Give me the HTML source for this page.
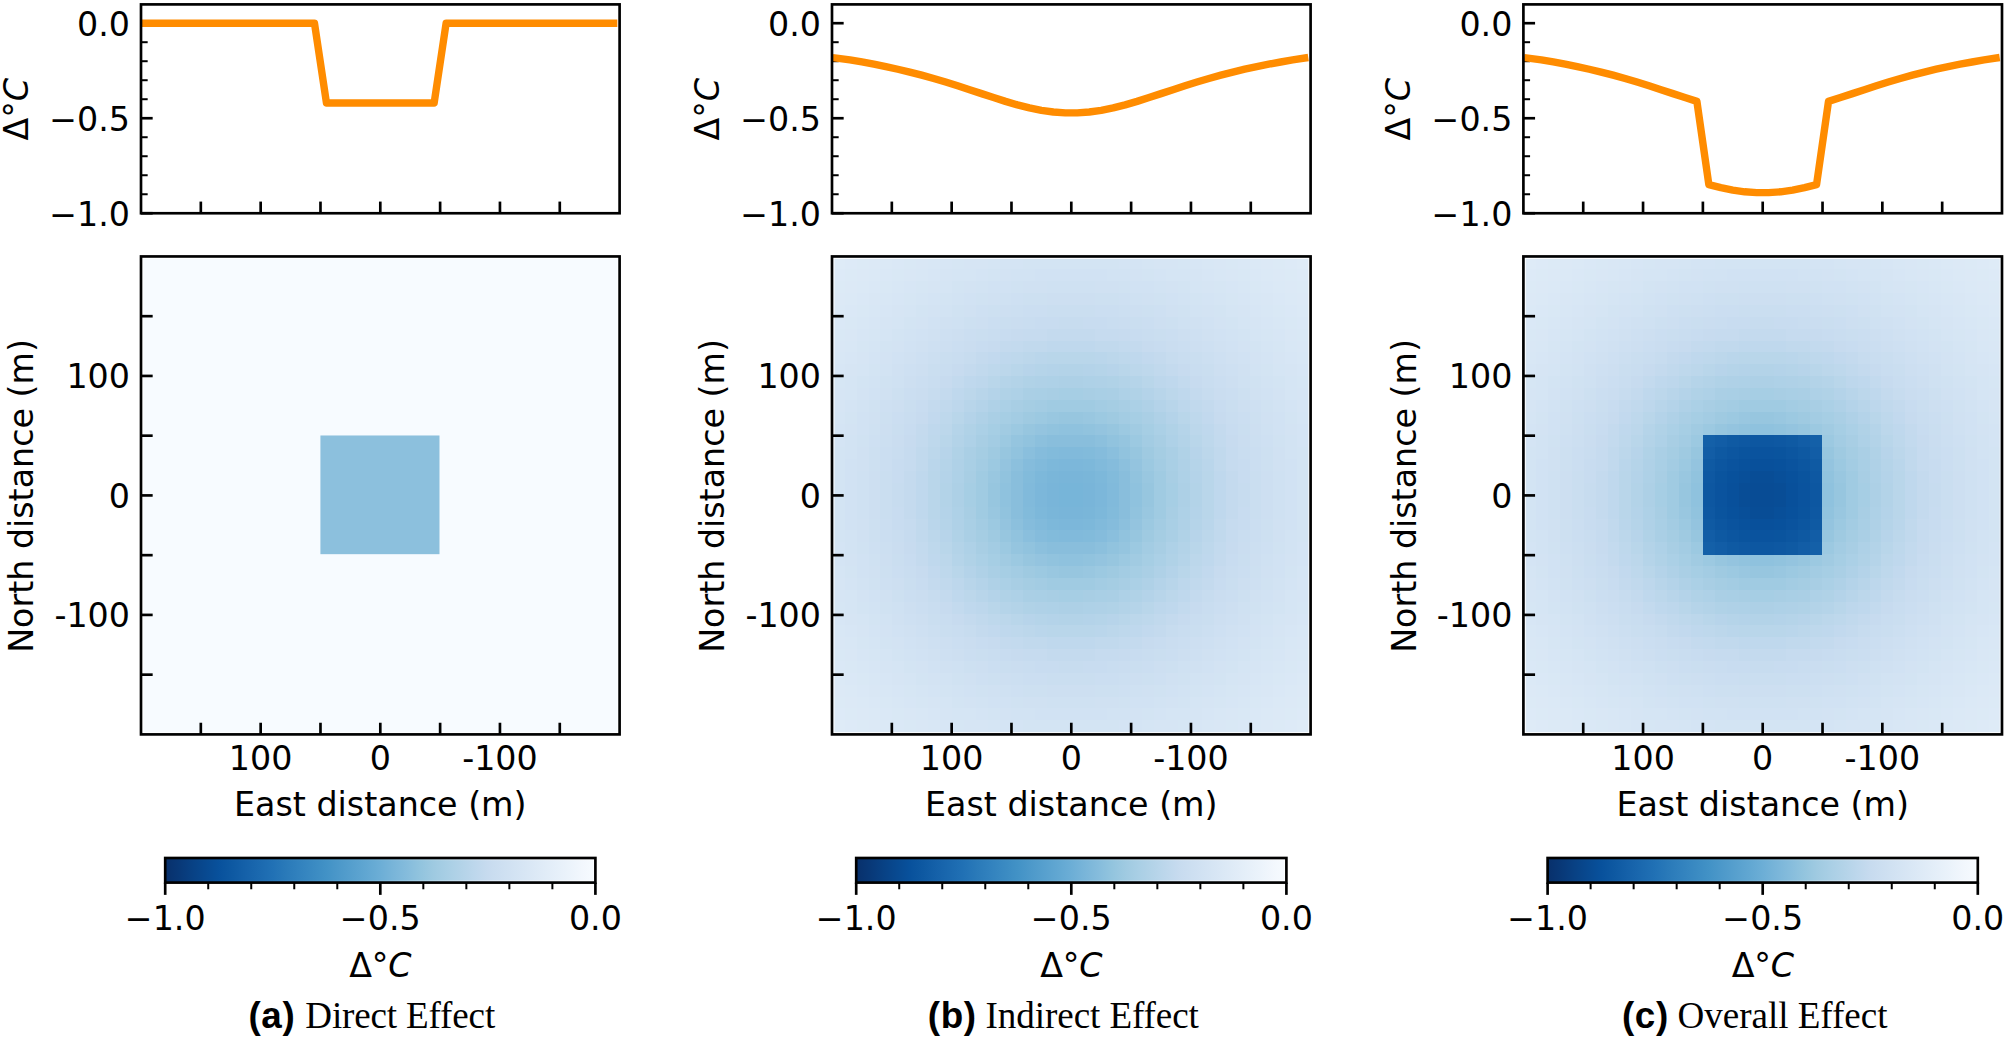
<!DOCTYPE html>
<html lang="en"><head><meta charset="utf-8"><title>Direct, Indirect and Overall Effect</title>
<style>html,body{margin:0;padding:0;background:#fff}body{width:2006px;height:1038px;overflow:hidden}svg{display:block}.t{font-family:"DejaVu Sans","Liberation Sans",sans-serif;font-size:33.3px;fill:#000}.i{font-style:italic}.l{letter-spacing:0}.k{letter-spacing:0}.cb{font-family:"Liberation Sans",sans-serif;font-weight:bold;font-size:36.8px;letter-spacing:0.6px}.cs{font-family:"Liberation Serif",serif;font-size:37.1px}.cap{fill:#000}.sp{fill:none;stroke:#000;stroke-width:2.67;stroke-linejoin:miter;stroke-linecap:square}.tk{stroke:#000;stroke-width:2.67;fill:none}.tm{stroke:#000;stroke-width:2.0;fill:none}.ln{fill:none;stroke:#ff8c00;stroke-width:7.4;stroke-linejoin:round;stroke-linecap:square}</style></head><body>
<svg width="2006" height="1038" viewBox="0 0 2006 1038">
<defs><linearGradient id="bl" x1="0" x2="1" y1="0" y2="0">
<stop offset="0.0000" stop-color="#08306b"/>
<stop offset="0.0312" stop-color="#083877"/>
<stop offset="0.0625" stop-color="#084184"/>
<stop offset="0.0938" stop-color="#084990"/>
<stop offset="0.1250" stop-color="#08519c"/>
<stop offset="0.1562" stop-color="#0e59a2"/>
<stop offset="0.1875" stop-color="#1561a9"/>
<stop offset="0.2188" stop-color="#1b69af"/>
<stop offset="0.2500" stop-color="#2171b5"/>
<stop offset="0.2812" stop-color="#2a7ab9"/>
<stop offset="0.3125" stop-color="#3282be"/>
<stop offset="0.3438" stop-color="#3a8ac2"/>
<stop offset="0.3750" stop-color="#4292c6"/>
<stop offset="0.4062" stop-color="#4d99ca"/>
<stop offset="0.4375" stop-color="#57a0ce"/>
<stop offset="0.4688" stop-color="#61a7d2"/>
<stop offset="0.5000" stop-color="#6caed6"/>
<stop offset="0.5312" stop-color="#79b5d9"/>
<stop offset="0.5625" stop-color="#85bcdc"/>
<stop offset="0.5938" stop-color="#92c4de"/>
<stop offset="0.6250" stop-color="#9fcae1"/>
<stop offset="0.6562" stop-color="#a9cfe5"/>
<stop offset="0.6875" stop-color="#b3d3e8"/>
<stop offset="0.7188" stop-color="#bdd7ec"/>
<stop offset="0.7500" stop-color="#c7dbef"/>
<stop offset="0.7812" stop-color="#cddff1"/>
<stop offset="0.8125" stop-color="#d3e3f3"/>
<stop offset="0.8438" stop-color="#d9e7f5"/>
<stop offset="0.8750" stop-color="#dfebf7"/>
<stop offset="0.9062" stop-color="#e5eff9"/>
<stop offset="0.9375" stop-color="#ebf3fb"/>
<stop offset="0.9688" stop-color="#f2f7fd"/>
<stop offset="1.0000" stop-color="#f7fbff"/>
</linearGradient>
<linearGradient id="wg" x1="0" x2="1" y1="0" y2="0"><stop offset="0" stop-color="#fff" stop-opacity="0"/><stop offset="0.45" stop-color="#fff" stop-opacity="0.1"/><stop offset="1" stop-color="#fff" stop-opacity="0.85"/></linearGradient>
<g id="ind" shape-rendering="crispEdges">
<rect x="0" y="0" width="1.03" height="1.03" fill="#deebf7"/>
<rect x="1" y="0" width="1.03" height="1.03" fill="#ddeaf7"/>
<rect x="2" y="0" width="1.03" height="1.03" fill="#dceaf6"/>
<rect x="3" y="0" width="1.03" height="1.03" fill="#dce9f6"/>
<rect x="4" y="0" width="1.03" height="1.03" fill="#dbe9f6"/>
<rect x="5" y="0" width="1.03" height="1.03" fill="#dae8f6"/>
<rect x="6" y="0" width="1.03" height="1.03" fill="#d9e8f5"/>
<rect x="7" y="0" width="1.03" height="1.03" fill="#d9e7f5"/>
<rect x="8" y="0" width="1.03" height="1.03" fill="#d8e7f5"/>
<rect x="9" y="0" width="1.03" height="1.03" fill="#d7e6f5"/>
<rect x="10" y="0" width="1.03" height="1.03" fill="#d6e6f4"/>
<rect x="11" y="0" width="1.03" height="1.03" fill="#d6e5f4"/>
<rect x="12" y="0" width="1.03" height="1.03" fill="#d6e5f4"/>
<rect x="13" y="0" width="1.03" height="1.03" fill="#d5e5f4"/>
<rect x="14" y="0" width="1.03" height="1.03" fill="#d4e4f4"/>
<rect x="15" y="0" width="1.03" height="1.03" fill="#d4e4f4"/>
<rect x="16" y="0" width="1.03" height="1.03" fill="#d3e4f3"/>
<rect x="17" y="0" width="1.03" height="1.03" fill="#d3e4f3"/>
<rect x="18" y="0" width="1.03" height="1.03" fill="#d3e4f3"/>
<rect x="19" y="0" width="1.03" height="1.03" fill="#d3e4f3"/>
<rect x="20" y="0" width="1.03" height="1.03" fill="#d3e4f3"/>
<rect x="21" y="0" width="1.03" height="1.03" fill="#d3e4f3"/>
<rect x="22" y="0" width="1.03" height="1.03" fill="#d3e4f3"/>
<rect x="23" y="0" width="1.03" height="1.03" fill="#d3e4f3"/>
<rect x="24" y="0" width="1.03" height="1.03" fill="#d4e4f4"/>
<rect x="25" y="0" width="1.03" height="1.03" fill="#d4e4f4"/>
<rect x="26" y="0" width="1.03" height="1.03" fill="#d5e5f4"/>
<rect x="27" y="0" width="1.03" height="1.03" fill="#d6e5f4"/>
<rect x="28" y="0" width="1.03" height="1.03" fill="#d6e5f4"/>
<rect x="29" y="0" width="1.03" height="1.03" fill="#d6e6f4"/>
<rect x="30" y="0" width="1.03" height="1.03" fill="#d7e6f5"/>
<rect x="31" y="0" width="1.03" height="1.03" fill="#d8e7f5"/>
<rect x="32" y="0" width="1.03" height="1.03" fill="#d9e7f5"/>
<rect x="33" y="0" width="1.03" height="1.03" fill="#d9e8f5"/>
<rect x="34" y="0" width="1.03" height="1.03" fill="#dae8f6"/>
<rect x="35" y="0" width="1.03" height="1.03" fill="#dbe9f6"/>
<rect x="36" y="0" width="1.03" height="1.03" fill="#dce9f6"/>
<rect x="37" y="0" width="1.03" height="1.03" fill="#dceaf6"/>
<rect x="38" y="0" width="1.03" height="1.03" fill="#ddeaf7"/>
<rect x="39" y="0" width="1.03" height="1.03" fill="#deebf7"/>
<rect x="0" y="1" width="1.03" height="1.03" fill="#ddeaf7"/>
<rect x="1" y="1" width="1.03" height="1.03" fill="#dceaf6"/>
<rect x="2" y="1" width="1.03" height="1.03" fill="#dce9f6"/>
<rect x="3" y="1" width="1.03" height="1.03" fill="#dbe9f6"/>
<rect x="4" y="1" width="1.03" height="1.03" fill="#dae8f6"/>
<rect x="5" y="1" width="1.03" height="1.03" fill="#d9e8f5"/>
<rect x="6" y="1" width="1.03" height="1.03" fill="#d9e7f5"/>
<rect x="7" y="1" width="1.03" height="1.03" fill="#d8e7f5"/>
<rect x="8" y="1" width="1.03" height="1.03" fill="#d7e6f5"/>
<rect x="9" y="1" width="1.03" height="1.03" fill="#d6e5f4"/>
<rect x="10" y="1" width="1.03" height="1.03" fill="#d5e5f4"/>
<rect x="11" y="1" width="1.03" height="1.03" fill="#d5e5f4"/>
<rect x="12" y="1" width="1.03" height="1.03" fill="#d4e4f4"/>
<rect x="13" y="1" width="1.03" height="1.03" fill="#d3e4f3"/>
<rect x="14" y="1" width="1.03" height="1.03" fill="#d3e3f3"/>
<rect x="15" y="1" width="1.03" height="1.03" fill="#d2e3f3"/>
<rect x="16" y="1" width="1.03" height="1.03" fill="#d2e3f3"/>
<rect x="17" y="1" width="1.03" height="1.03" fill="#d1e2f3"/>
<rect x="18" y="1" width="1.03" height="1.03" fill="#d1e2f3"/>
<rect x="19" y="1" width="1.03" height="1.03" fill="#d1e2f3"/>
<rect x="20" y="1" width="1.03" height="1.03" fill="#d1e2f3"/>
<rect x="21" y="1" width="1.03" height="1.03" fill="#d1e2f3"/>
<rect x="22" y="1" width="1.03" height="1.03" fill="#d1e2f3"/>
<rect x="23" y="1" width="1.03" height="1.03" fill="#d2e3f3"/>
<rect x="24" y="1" width="1.03" height="1.03" fill="#d2e3f3"/>
<rect x="25" y="1" width="1.03" height="1.03" fill="#d3e3f3"/>
<rect x="26" y="1" width="1.03" height="1.03" fill="#d3e4f3"/>
<rect x="27" y="1" width="1.03" height="1.03" fill="#d4e4f4"/>
<rect x="28" y="1" width="1.03" height="1.03" fill="#d5e5f4"/>
<rect x="29" y="1" width="1.03" height="1.03" fill="#d5e5f4"/>
<rect x="30" y="1" width="1.03" height="1.03" fill="#d6e5f4"/>
<rect x="31" y="1" width="1.03" height="1.03" fill="#d7e6f5"/>
<rect x="32" y="1" width="1.03" height="1.03" fill="#d8e7f5"/>
<rect x="33" y="1" width="1.03" height="1.03" fill="#d9e7f5"/>
<rect x="34" y="1" width="1.03" height="1.03" fill="#d9e8f5"/>
<rect x="35" y="1" width="1.03" height="1.03" fill="#dae8f6"/>
<rect x="36" y="1" width="1.03" height="1.03" fill="#dbe9f6"/>
<rect x="37" y="1" width="1.03" height="1.03" fill="#dce9f6"/>
<rect x="38" y="1" width="1.03" height="1.03" fill="#dceaf6"/>
<rect x="39" y="1" width="1.03" height="1.03" fill="#ddeaf7"/>
<rect x="0" y="2" width="1.03" height="1.03" fill="#dceaf6"/>
<rect x="1" y="2" width="1.03" height="1.03" fill="#dce9f6"/>
<rect x="2" y="2" width="1.03" height="1.03" fill="#dbe9f6"/>
<rect x="3" y="2" width="1.03" height="1.03" fill="#dae8f6"/>
<rect x="4" y="2" width="1.03" height="1.03" fill="#d9e8f5"/>
<rect x="5" y="2" width="1.03" height="1.03" fill="#d8e7f5"/>
<rect x="6" y="2" width="1.03" height="1.03" fill="#d7e6f5"/>
<rect x="7" y="2" width="1.03" height="1.03" fill="#d6e6f4"/>
<rect x="8" y="2" width="1.03" height="1.03" fill="#d6e5f4"/>
<rect x="9" y="2" width="1.03" height="1.03" fill="#d5e5f4"/>
<rect x="10" y="2" width="1.03" height="1.03" fill="#d3e4f3"/>
<rect x="11" y="2" width="1.03" height="1.03" fill="#d3e3f3"/>
<rect x="12" y="2" width="1.03" height="1.03" fill="#d2e3f3"/>
<rect x="13" y="2" width="1.03" height="1.03" fill="#d1e2f3"/>
<rect x="14" y="2" width="1.03" height="1.03" fill="#d1e2f3"/>
<rect x="15" y="2" width="1.03" height="1.03" fill="#d0e2f2"/>
<rect x="16" y="2" width="1.03" height="1.03" fill="#d0e1f2"/>
<rect x="17" y="2" width="1.03" height="1.03" fill="#d0e1f2"/>
<rect x="18" y="2" width="1.03" height="1.03" fill="#cfe1f2"/>
<rect x="19" y="2" width="1.03" height="1.03" fill="#cfe1f2"/>
<rect x="20" y="2" width="1.03" height="1.03" fill="#cfe1f2"/>
<rect x="21" y="2" width="1.03" height="1.03" fill="#cfe1f2"/>
<rect x="22" y="2" width="1.03" height="1.03" fill="#d0e1f2"/>
<rect x="23" y="2" width="1.03" height="1.03" fill="#d0e1f2"/>
<rect x="24" y="2" width="1.03" height="1.03" fill="#d0e2f2"/>
<rect x="25" y="2" width="1.03" height="1.03" fill="#d1e2f3"/>
<rect x="26" y="2" width="1.03" height="1.03" fill="#d1e2f3"/>
<rect x="27" y="2" width="1.03" height="1.03" fill="#d2e3f3"/>
<rect x="28" y="2" width="1.03" height="1.03" fill="#d3e3f3"/>
<rect x="29" y="2" width="1.03" height="1.03" fill="#d3e4f3"/>
<rect x="30" y="2" width="1.03" height="1.03" fill="#d5e5f4"/>
<rect x="31" y="2" width="1.03" height="1.03" fill="#d6e5f4"/>
<rect x="32" y="2" width="1.03" height="1.03" fill="#d6e6f4"/>
<rect x="33" y="2" width="1.03" height="1.03" fill="#d7e6f5"/>
<rect x="34" y="2" width="1.03" height="1.03" fill="#d8e7f5"/>
<rect x="35" y="2" width="1.03" height="1.03" fill="#d9e8f5"/>
<rect x="36" y="2" width="1.03" height="1.03" fill="#dae8f6"/>
<rect x="37" y="2" width="1.03" height="1.03" fill="#dbe9f6"/>
<rect x="38" y="2" width="1.03" height="1.03" fill="#dce9f6"/>
<rect x="39" y="2" width="1.03" height="1.03" fill="#dceaf6"/>
<rect x="0" y="3" width="1.03" height="1.03" fill="#dce9f6"/>
<rect x="1" y="3" width="1.03" height="1.03" fill="#dbe9f6"/>
<rect x="2" y="3" width="1.03" height="1.03" fill="#dae8f6"/>
<rect x="3" y="3" width="1.03" height="1.03" fill="#d9e7f5"/>
<rect x="4" y="3" width="1.03" height="1.03" fill="#d8e7f5"/>
<rect x="5" y="3" width="1.03" height="1.03" fill="#d7e6f5"/>
<rect x="6" y="3" width="1.03" height="1.03" fill="#d6e6f4"/>
<rect x="7" y="3" width="1.03" height="1.03" fill="#d5e5f4"/>
<rect x="8" y="3" width="1.03" height="1.03" fill="#d4e4f4"/>
<rect x="9" y="3" width="1.03" height="1.03" fill="#d3e4f3"/>
<rect x="10" y="3" width="1.03" height="1.03" fill="#d2e3f3"/>
<rect x="11" y="3" width="1.03" height="1.03" fill="#d1e2f3"/>
<rect x="12" y="3" width="1.03" height="1.03" fill="#d0e2f2"/>
<rect x="13" y="3" width="1.03" height="1.03" fill="#d0e1f2"/>
<rect x="14" y="3" width="1.03" height="1.03" fill="#cfe1f2"/>
<rect x="15" y="3" width="1.03" height="1.03" fill="#cee0f2"/>
<rect x="16" y="3" width="1.03" height="1.03" fill="#cde0f1"/>
<rect x="17" y="3" width="1.03" height="1.03" fill="#cde0f1"/>
<rect x="18" y="3" width="1.03" height="1.03" fill="#cddff1"/>
<rect x="19" y="3" width="1.03" height="1.03" fill="#cddff1"/>
<rect x="20" y="3" width="1.03" height="1.03" fill="#cddff1"/>
<rect x="21" y="3" width="1.03" height="1.03" fill="#cddff1"/>
<rect x="22" y="3" width="1.03" height="1.03" fill="#cde0f1"/>
<rect x="23" y="3" width="1.03" height="1.03" fill="#cde0f1"/>
<rect x="24" y="3" width="1.03" height="1.03" fill="#cee0f2"/>
<rect x="25" y="3" width="1.03" height="1.03" fill="#cfe1f2"/>
<rect x="26" y="3" width="1.03" height="1.03" fill="#d0e1f2"/>
<rect x="27" y="3" width="1.03" height="1.03" fill="#d0e2f2"/>
<rect x="28" y="3" width="1.03" height="1.03" fill="#d1e2f3"/>
<rect x="29" y="3" width="1.03" height="1.03" fill="#d2e3f3"/>
<rect x="30" y="3" width="1.03" height="1.03" fill="#d3e4f3"/>
<rect x="31" y="3" width="1.03" height="1.03" fill="#d4e4f4"/>
<rect x="32" y="3" width="1.03" height="1.03" fill="#d5e5f4"/>
<rect x="33" y="3" width="1.03" height="1.03" fill="#d6e6f4"/>
<rect x="34" y="3" width="1.03" height="1.03" fill="#d7e6f5"/>
<rect x="35" y="3" width="1.03" height="1.03" fill="#d8e7f5"/>
<rect x="36" y="3" width="1.03" height="1.03" fill="#d9e7f5"/>
<rect x="37" y="3" width="1.03" height="1.03" fill="#dae8f6"/>
<rect x="38" y="3" width="1.03" height="1.03" fill="#dbe9f6"/>
<rect x="39" y="3" width="1.03" height="1.03" fill="#dce9f6"/>
<rect x="0" y="4" width="1.03" height="1.03" fill="#dbe9f6"/>
<rect x="1" y="4" width="1.03" height="1.03" fill="#dae8f6"/>
<rect x="2" y="4" width="1.03" height="1.03" fill="#d9e8f5"/>
<rect x="3" y="4" width="1.03" height="1.03" fill="#d8e7f5"/>
<rect x="4" y="4" width="1.03" height="1.03" fill="#d7e6f5"/>
<rect x="5" y="4" width="1.03" height="1.03" fill="#d6e5f4"/>
<rect x="6" y="4" width="1.03" height="1.03" fill="#d5e5f4"/>
<rect x="7" y="4" width="1.03" height="1.03" fill="#d3e4f3"/>
<rect x="8" y="4" width="1.03" height="1.03" fill="#d3e3f3"/>
<rect x="9" y="4" width="1.03" height="1.03" fill="#d2e3f3"/>
<rect x="10" y="4" width="1.03" height="1.03" fill="#d0e2f2"/>
<rect x="11" y="4" width="1.03" height="1.03" fill="#d0e1f2"/>
<rect x="12" y="4" width="1.03" height="1.03" fill="#cee0f2"/>
<rect x="13" y="4" width="1.03" height="1.03" fill="#cde0f1"/>
<rect x="14" y="4" width="1.03" height="1.03" fill="#cddff1"/>
<rect x="15" y="4" width="1.03" height="1.03" fill="#ccdff1"/>
<rect x="16" y="4" width="1.03" height="1.03" fill="#cbdef1"/>
<rect x="17" y="4" width="1.03" height="1.03" fill="#cbdef1"/>
<rect x="18" y="4" width="1.03" height="1.03" fill="#cadef0"/>
<rect x="19" y="4" width="1.03" height="1.03" fill="#cadef0"/>
<rect x="20" y="4" width="1.03" height="1.03" fill="#cadef0"/>
<rect x="21" y="4" width="1.03" height="1.03" fill="#cadef0"/>
<rect x="22" y="4" width="1.03" height="1.03" fill="#cbdef1"/>
<rect x="23" y="4" width="1.03" height="1.03" fill="#cbdef1"/>
<rect x="24" y="4" width="1.03" height="1.03" fill="#ccdff1"/>
<rect x="25" y="4" width="1.03" height="1.03" fill="#cddff1"/>
<rect x="26" y="4" width="1.03" height="1.03" fill="#cde0f1"/>
<rect x="27" y="4" width="1.03" height="1.03" fill="#cee0f2"/>
<rect x="28" y="4" width="1.03" height="1.03" fill="#d0e1f2"/>
<rect x="29" y="4" width="1.03" height="1.03" fill="#d0e2f2"/>
<rect x="30" y="4" width="1.03" height="1.03" fill="#d2e3f3"/>
<rect x="31" y="4" width="1.03" height="1.03" fill="#d3e3f3"/>
<rect x="32" y="4" width="1.03" height="1.03" fill="#d3e4f3"/>
<rect x="33" y="4" width="1.03" height="1.03" fill="#d5e5f4"/>
<rect x="34" y="4" width="1.03" height="1.03" fill="#d6e5f4"/>
<rect x="35" y="4" width="1.03" height="1.03" fill="#d7e6f5"/>
<rect x="36" y="4" width="1.03" height="1.03" fill="#d8e7f5"/>
<rect x="37" y="4" width="1.03" height="1.03" fill="#d9e8f5"/>
<rect x="38" y="4" width="1.03" height="1.03" fill="#dae8f6"/>
<rect x="39" y="4" width="1.03" height="1.03" fill="#dbe9f6"/>
<rect x="0" y="5" width="1.03" height="1.03" fill="#dae8f6"/>
<rect x="1" y="5" width="1.03" height="1.03" fill="#d9e8f5"/>
<rect x="2" y="5" width="1.03" height="1.03" fill="#d8e7f5"/>
<rect x="3" y="5" width="1.03" height="1.03" fill="#d7e6f5"/>
<rect x="4" y="5" width="1.03" height="1.03" fill="#d6e5f4"/>
<rect x="5" y="5" width="1.03" height="1.03" fill="#d5e5f4"/>
<rect x="6" y="5" width="1.03" height="1.03" fill="#d3e4f3"/>
<rect x="7" y="5" width="1.03" height="1.03" fill="#d3e3f3"/>
<rect x="8" y="5" width="1.03" height="1.03" fill="#d1e2f3"/>
<rect x="9" y="5" width="1.03" height="1.03" fill="#d0e1f2"/>
<rect x="10" y="5" width="1.03" height="1.03" fill="#cfe1f2"/>
<rect x="11" y="5" width="1.03" height="1.03" fill="#cde0f1"/>
<rect x="12" y="5" width="1.03" height="1.03" fill="#cddff1"/>
<rect x="13" y="5" width="1.03" height="1.03" fill="#cbdef1"/>
<rect x="14" y="5" width="1.03" height="1.03" fill="#cadef0"/>
<rect x="15" y="5" width="1.03" height="1.03" fill="#caddf0"/>
<rect x="16" y="5" width="1.03" height="1.03" fill="#c9ddf0"/>
<rect x="17" y="5" width="1.03" height="1.03" fill="#c8dcf0"/>
<rect x="18" y="5" width="1.03" height="1.03" fill="#c8dcf0"/>
<rect x="19" y="5" width="1.03" height="1.03" fill="#c7dcef"/>
<rect x="20" y="5" width="1.03" height="1.03" fill="#c7dcef"/>
<rect x="21" y="5" width="1.03" height="1.03" fill="#c8dcf0"/>
<rect x="22" y="5" width="1.03" height="1.03" fill="#c8dcf0"/>
<rect x="23" y="5" width="1.03" height="1.03" fill="#c9ddf0"/>
<rect x="24" y="5" width="1.03" height="1.03" fill="#caddf0"/>
<rect x="25" y="5" width="1.03" height="1.03" fill="#cadef0"/>
<rect x="26" y="5" width="1.03" height="1.03" fill="#cbdef1"/>
<rect x="27" y="5" width="1.03" height="1.03" fill="#cddff1"/>
<rect x="28" y="5" width="1.03" height="1.03" fill="#cde0f1"/>
<rect x="29" y="5" width="1.03" height="1.03" fill="#cfe1f2"/>
<rect x="30" y="5" width="1.03" height="1.03" fill="#d0e1f2"/>
<rect x="31" y="5" width="1.03" height="1.03" fill="#d1e2f3"/>
<rect x="32" y="5" width="1.03" height="1.03" fill="#d3e3f3"/>
<rect x="33" y="5" width="1.03" height="1.03" fill="#d3e4f3"/>
<rect x="34" y="5" width="1.03" height="1.03" fill="#d5e5f4"/>
<rect x="35" y="5" width="1.03" height="1.03" fill="#d6e5f4"/>
<rect x="36" y="5" width="1.03" height="1.03" fill="#d7e6f5"/>
<rect x="37" y="5" width="1.03" height="1.03" fill="#d8e7f5"/>
<rect x="38" y="5" width="1.03" height="1.03" fill="#d9e8f5"/>
<rect x="39" y="5" width="1.03" height="1.03" fill="#dae8f6"/>
<rect x="0" y="6" width="1.03" height="1.03" fill="#d9e8f5"/>
<rect x="1" y="6" width="1.03" height="1.03" fill="#d9e7f5"/>
<rect x="2" y="6" width="1.03" height="1.03" fill="#d7e6f5"/>
<rect x="3" y="6" width="1.03" height="1.03" fill="#d6e6f4"/>
<rect x="4" y="6" width="1.03" height="1.03" fill="#d5e5f4"/>
<rect x="5" y="6" width="1.03" height="1.03" fill="#d3e4f3"/>
<rect x="6" y="6" width="1.03" height="1.03" fill="#d2e3f3"/>
<rect x="7" y="6" width="1.03" height="1.03" fill="#d1e2f3"/>
<rect x="8" y="6" width="1.03" height="1.03" fill="#d0e1f2"/>
<rect x="9" y="6" width="1.03" height="1.03" fill="#cee0f2"/>
<rect x="10" y="6" width="1.03" height="1.03" fill="#cddff1"/>
<rect x="11" y="6" width="1.03" height="1.03" fill="#cbdef1"/>
<rect x="12" y="6" width="1.03" height="1.03" fill="#cadef0"/>
<rect x="13" y="6" width="1.03" height="1.03" fill="#c9ddf0"/>
<rect x="14" y="6" width="1.03" height="1.03" fill="#c8dcf0"/>
<rect x="15" y="6" width="1.03" height="1.03" fill="#c7dbef"/>
<rect x="16" y="6" width="1.03" height="1.03" fill="#c6dbef"/>
<rect x="17" y="6" width="1.03" height="1.03" fill="#c6dbef"/>
<rect x="18" y="6" width="1.03" height="1.03" fill="#c4daee"/>
<rect x="19" y="6" width="1.03" height="1.03" fill="#c4daee"/>
<rect x="20" y="6" width="1.03" height="1.03" fill="#c4daee"/>
<rect x="21" y="6" width="1.03" height="1.03" fill="#c4daee"/>
<rect x="22" y="6" width="1.03" height="1.03" fill="#c6dbef"/>
<rect x="23" y="6" width="1.03" height="1.03" fill="#c6dbef"/>
<rect x="24" y="6" width="1.03" height="1.03" fill="#c7dbef"/>
<rect x="25" y="6" width="1.03" height="1.03" fill="#c8dcf0"/>
<rect x="26" y="6" width="1.03" height="1.03" fill="#c9ddf0"/>
<rect x="27" y="6" width="1.03" height="1.03" fill="#cadef0"/>
<rect x="28" y="6" width="1.03" height="1.03" fill="#cbdef1"/>
<rect x="29" y="6" width="1.03" height="1.03" fill="#cddff1"/>
<rect x="30" y="6" width="1.03" height="1.03" fill="#cee0f2"/>
<rect x="31" y="6" width="1.03" height="1.03" fill="#d0e1f2"/>
<rect x="32" y="6" width="1.03" height="1.03" fill="#d1e2f3"/>
<rect x="33" y="6" width="1.03" height="1.03" fill="#d2e3f3"/>
<rect x="34" y="6" width="1.03" height="1.03" fill="#d3e4f3"/>
<rect x="35" y="6" width="1.03" height="1.03" fill="#d5e5f4"/>
<rect x="36" y="6" width="1.03" height="1.03" fill="#d6e6f4"/>
<rect x="37" y="6" width="1.03" height="1.03" fill="#d7e6f5"/>
<rect x="38" y="6" width="1.03" height="1.03" fill="#d9e7f5"/>
<rect x="39" y="6" width="1.03" height="1.03" fill="#d9e8f5"/>
<rect x="0" y="7" width="1.03" height="1.03" fill="#d9e7f5"/>
<rect x="1" y="7" width="1.03" height="1.03" fill="#d8e7f5"/>
<rect x="2" y="7" width="1.03" height="1.03" fill="#d6e6f4"/>
<rect x="3" y="7" width="1.03" height="1.03" fill="#d5e5f4"/>
<rect x="4" y="7" width="1.03" height="1.03" fill="#d3e4f3"/>
<rect x="5" y="7" width="1.03" height="1.03" fill="#d3e3f3"/>
<rect x="6" y="7" width="1.03" height="1.03" fill="#d1e2f3"/>
<rect x="7" y="7" width="1.03" height="1.03" fill="#d0e1f2"/>
<rect x="8" y="7" width="1.03" height="1.03" fill="#cee0f2"/>
<rect x="9" y="7" width="1.03" height="1.03" fill="#cddff1"/>
<rect x="10" y="7" width="1.03" height="1.03" fill="#cbdef1"/>
<rect x="11" y="7" width="1.03" height="1.03" fill="#caddf0"/>
<rect x="12" y="7" width="1.03" height="1.03" fill="#c8dcf0"/>
<rect x="13" y="7" width="1.03" height="1.03" fill="#c7dbef"/>
<rect x="14" y="7" width="1.03" height="1.03" fill="#c4daee"/>
<rect x="15" y="7" width="1.03" height="1.03" fill="#c3daee"/>
<rect x="16" y="7" width="1.03" height="1.03" fill="#c1d9ed"/>
<rect x="17" y="7" width="1.03" height="1.03" fill="#c1d9ed"/>
<rect x="18" y="7" width="1.03" height="1.03" fill="#bfd8ed"/>
<rect x="19" y="7" width="1.03" height="1.03" fill="#bfd8ed"/>
<rect x="20" y="7" width="1.03" height="1.03" fill="#bfd8ed"/>
<rect x="21" y="7" width="1.03" height="1.03" fill="#bfd8ed"/>
<rect x="22" y="7" width="1.03" height="1.03" fill="#c1d9ed"/>
<rect x="23" y="7" width="1.03" height="1.03" fill="#c1d9ed"/>
<rect x="24" y="7" width="1.03" height="1.03" fill="#c3daee"/>
<rect x="25" y="7" width="1.03" height="1.03" fill="#c4daee"/>
<rect x="26" y="7" width="1.03" height="1.03" fill="#c7dbef"/>
<rect x="27" y="7" width="1.03" height="1.03" fill="#c8dcf0"/>
<rect x="28" y="7" width="1.03" height="1.03" fill="#caddf0"/>
<rect x="29" y="7" width="1.03" height="1.03" fill="#cbdef1"/>
<rect x="30" y="7" width="1.03" height="1.03" fill="#cddff1"/>
<rect x="31" y="7" width="1.03" height="1.03" fill="#cee0f2"/>
<rect x="32" y="7" width="1.03" height="1.03" fill="#d0e1f2"/>
<rect x="33" y="7" width="1.03" height="1.03" fill="#d1e2f3"/>
<rect x="34" y="7" width="1.03" height="1.03" fill="#d3e3f3"/>
<rect x="35" y="7" width="1.03" height="1.03" fill="#d3e4f3"/>
<rect x="36" y="7" width="1.03" height="1.03" fill="#d5e5f4"/>
<rect x="37" y="7" width="1.03" height="1.03" fill="#d6e6f4"/>
<rect x="38" y="7" width="1.03" height="1.03" fill="#d8e7f5"/>
<rect x="39" y="7" width="1.03" height="1.03" fill="#d9e7f5"/>
<rect x="0" y="8" width="1.03" height="1.03" fill="#d8e7f5"/>
<rect x="1" y="8" width="1.03" height="1.03" fill="#d7e6f5"/>
<rect x="2" y="8" width="1.03" height="1.03" fill="#d6e5f4"/>
<rect x="3" y="8" width="1.03" height="1.03" fill="#d4e4f4"/>
<rect x="4" y="8" width="1.03" height="1.03" fill="#d3e3f3"/>
<rect x="5" y="8" width="1.03" height="1.03" fill="#d1e2f3"/>
<rect x="6" y="8" width="1.03" height="1.03" fill="#d0e1f2"/>
<rect x="7" y="8" width="1.03" height="1.03" fill="#cee0f2"/>
<rect x="8" y="8" width="1.03" height="1.03" fill="#ccdff1"/>
<rect x="9" y="8" width="1.03" height="1.03" fill="#cadef0"/>
<rect x="10" y="8" width="1.03" height="1.03" fill="#c9ddf0"/>
<rect x="11" y="8" width="1.03" height="1.03" fill="#c7dcef"/>
<rect x="12" y="8" width="1.03" height="1.03" fill="#c4daee"/>
<rect x="13" y="8" width="1.03" height="1.03" fill="#c2d9ee"/>
<rect x="14" y="8" width="1.03" height="1.03" fill="#bfd8ed"/>
<rect x="15" y="8" width="1.03" height="1.03" fill="#bed8ec"/>
<rect x="16" y="8" width="1.03" height="1.03" fill="#bcd7eb"/>
<rect x="17" y="8" width="1.03" height="1.03" fill="#bad6eb"/>
<rect x="18" y="8" width="1.03" height="1.03" fill="#b9d6ea"/>
<rect x="19" y="8" width="1.03" height="1.03" fill="#b9d6ea"/>
<rect x="20" y="8" width="1.03" height="1.03" fill="#b9d6ea"/>
<rect x="21" y="8" width="1.03" height="1.03" fill="#b9d6ea"/>
<rect x="22" y="8" width="1.03" height="1.03" fill="#bad6eb"/>
<rect x="23" y="8" width="1.03" height="1.03" fill="#bcd7eb"/>
<rect x="24" y="8" width="1.03" height="1.03" fill="#bed8ec"/>
<rect x="25" y="8" width="1.03" height="1.03" fill="#bfd8ed"/>
<rect x="26" y="8" width="1.03" height="1.03" fill="#c2d9ee"/>
<rect x="27" y="8" width="1.03" height="1.03" fill="#c4daee"/>
<rect x="28" y="8" width="1.03" height="1.03" fill="#c7dcef"/>
<rect x="29" y="8" width="1.03" height="1.03" fill="#c9ddf0"/>
<rect x="30" y="8" width="1.03" height="1.03" fill="#cadef0"/>
<rect x="31" y="8" width="1.03" height="1.03" fill="#ccdff1"/>
<rect x="32" y="8" width="1.03" height="1.03" fill="#cee0f2"/>
<rect x="33" y="8" width="1.03" height="1.03" fill="#d0e1f2"/>
<rect x="34" y="8" width="1.03" height="1.03" fill="#d1e2f3"/>
<rect x="35" y="8" width="1.03" height="1.03" fill="#d3e3f3"/>
<rect x="36" y="8" width="1.03" height="1.03" fill="#d4e4f4"/>
<rect x="37" y="8" width="1.03" height="1.03" fill="#d6e5f4"/>
<rect x="38" y="8" width="1.03" height="1.03" fill="#d7e6f5"/>
<rect x="39" y="8" width="1.03" height="1.03" fill="#d8e7f5"/>
<rect x="0" y="9" width="1.03" height="1.03" fill="#d7e6f5"/>
<rect x="1" y="9" width="1.03" height="1.03" fill="#d6e5f4"/>
<rect x="2" y="9" width="1.03" height="1.03" fill="#d5e5f4"/>
<rect x="3" y="9" width="1.03" height="1.03" fill="#d3e4f3"/>
<rect x="4" y="9" width="1.03" height="1.03" fill="#d2e3f3"/>
<rect x="5" y="9" width="1.03" height="1.03" fill="#d0e1f2"/>
<rect x="6" y="9" width="1.03" height="1.03" fill="#cee0f2"/>
<rect x="7" y="9" width="1.03" height="1.03" fill="#cddff1"/>
<rect x="8" y="9" width="1.03" height="1.03" fill="#cadef0"/>
<rect x="9" y="9" width="1.03" height="1.03" fill="#c9ddf0"/>
<rect x="10" y="9" width="1.03" height="1.03" fill="#c7dbef"/>
<rect x="11" y="9" width="1.03" height="1.03" fill="#c4daee"/>
<rect x="12" y="9" width="1.03" height="1.03" fill="#c1d9ed"/>
<rect x="13" y="9" width="1.03" height="1.03" fill="#bed8ec"/>
<rect x="14" y="9" width="1.03" height="1.03" fill="#bcd7eb"/>
<rect x="15" y="9" width="1.03" height="1.03" fill="#b9d6ea"/>
<rect x="16" y="9" width="1.03" height="1.03" fill="#b7d4ea"/>
<rect x="17" y="9" width="1.03" height="1.03" fill="#b5d4e9"/>
<rect x="18" y="9" width="1.03" height="1.03" fill="#b4d3e9"/>
<rect x="19" y="9" width="1.03" height="1.03" fill="#b3d3e8"/>
<rect x="20" y="9" width="1.03" height="1.03" fill="#b3d3e8"/>
<rect x="21" y="9" width="1.03" height="1.03" fill="#b4d3e9"/>
<rect x="22" y="9" width="1.03" height="1.03" fill="#b5d4e9"/>
<rect x="23" y="9" width="1.03" height="1.03" fill="#b7d4ea"/>
<rect x="24" y="9" width="1.03" height="1.03" fill="#b9d6ea"/>
<rect x="25" y="9" width="1.03" height="1.03" fill="#bcd7eb"/>
<rect x="26" y="9" width="1.03" height="1.03" fill="#bed8ec"/>
<rect x="27" y="9" width="1.03" height="1.03" fill="#c1d9ed"/>
<rect x="28" y="9" width="1.03" height="1.03" fill="#c4daee"/>
<rect x="29" y="9" width="1.03" height="1.03" fill="#c7dbef"/>
<rect x="30" y="9" width="1.03" height="1.03" fill="#c9ddf0"/>
<rect x="31" y="9" width="1.03" height="1.03" fill="#cadef0"/>
<rect x="32" y="9" width="1.03" height="1.03" fill="#cddff1"/>
<rect x="33" y="9" width="1.03" height="1.03" fill="#cee0f2"/>
<rect x="34" y="9" width="1.03" height="1.03" fill="#d0e1f2"/>
<rect x="35" y="9" width="1.03" height="1.03" fill="#d2e3f3"/>
<rect x="36" y="9" width="1.03" height="1.03" fill="#d3e4f3"/>
<rect x="37" y="9" width="1.03" height="1.03" fill="#d5e5f4"/>
<rect x="38" y="9" width="1.03" height="1.03" fill="#d6e5f4"/>
<rect x="39" y="9" width="1.03" height="1.03" fill="#d7e6f5"/>
<rect x="0" y="10" width="1.03" height="1.03" fill="#d6e6f4"/>
<rect x="1" y="10" width="1.03" height="1.03" fill="#d5e5f4"/>
<rect x="2" y="10" width="1.03" height="1.03" fill="#d3e4f3"/>
<rect x="3" y="10" width="1.03" height="1.03" fill="#d2e3f3"/>
<rect x="4" y="10" width="1.03" height="1.03" fill="#d0e2f2"/>
<rect x="5" y="10" width="1.03" height="1.03" fill="#cfe1f2"/>
<rect x="6" y="10" width="1.03" height="1.03" fill="#cddff1"/>
<rect x="7" y="10" width="1.03" height="1.03" fill="#cbdef1"/>
<rect x="8" y="10" width="1.03" height="1.03" fill="#c9ddf0"/>
<rect x="9" y="10" width="1.03" height="1.03" fill="#c7dbef"/>
<rect x="10" y="10" width="1.03" height="1.03" fill="#c3daee"/>
<rect x="11" y="10" width="1.03" height="1.03" fill="#bfd8ed"/>
<rect x="12" y="10" width="1.03" height="1.03" fill="#bdd7ec"/>
<rect x="13" y="10" width="1.03" height="1.03" fill="#b9d6ea"/>
<rect x="14" y="10" width="1.03" height="1.03" fill="#b5d4e9"/>
<rect x="15" y="10" width="1.03" height="1.03" fill="#b3d3e8"/>
<rect x="16" y="10" width="1.03" height="1.03" fill="#b0d2e7"/>
<rect x="17" y="10" width="1.03" height="1.03" fill="#afd1e7"/>
<rect x="18" y="10" width="1.03" height="1.03" fill="#aed1e7"/>
<rect x="19" y="10" width="1.03" height="1.03" fill="#add0e6"/>
<rect x="20" y="10" width="1.03" height="1.03" fill="#add0e6"/>
<rect x="21" y="10" width="1.03" height="1.03" fill="#aed1e7"/>
<rect x="22" y="10" width="1.03" height="1.03" fill="#afd1e7"/>
<rect x="23" y="10" width="1.03" height="1.03" fill="#b0d2e7"/>
<rect x="24" y="10" width="1.03" height="1.03" fill="#b3d3e8"/>
<rect x="25" y="10" width="1.03" height="1.03" fill="#b5d4e9"/>
<rect x="26" y="10" width="1.03" height="1.03" fill="#b9d6ea"/>
<rect x="27" y="10" width="1.03" height="1.03" fill="#bdd7ec"/>
<rect x="28" y="10" width="1.03" height="1.03" fill="#bfd8ed"/>
<rect x="29" y="10" width="1.03" height="1.03" fill="#c3daee"/>
<rect x="30" y="10" width="1.03" height="1.03" fill="#c7dbef"/>
<rect x="31" y="10" width="1.03" height="1.03" fill="#c9ddf0"/>
<rect x="32" y="10" width="1.03" height="1.03" fill="#cbdef1"/>
<rect x="33" y="10" width="1.03" height="1.03" fill="#cddff1"/>
<rect x="34" y="10" width="1.03" height="1.03" fill="#cfe1f2"/>
<rect x="35" y="10" width="1.03" height="1.03" fill="#d0e2f2"/>
<rect x="36" y="10" width="1.03" height="1.03" fill="#d2e3f3"/>
<rect x="37" y="10" width="1.03" height="1.03" fill="#d3e4f3"/>
<rect x="38" y="10" width="1.03" height="1.03" fill="#d5e5f4"/>
<rect x="39" y="10" width="1.03" height="1.03" fill="#d6e6f4"/>
<rect x="0" y="11" width="1.03" height="1.03" fill="#d6e5f4"/>
<rect x="1" y="11" width="1.03" height="1.03" fill="#d5e5f4"/>
<rect x="2" y="11" width="1.03" height="1.03" fill="#d3e3f3"/>
<rect x="3" y="11" width="1.03" height="1.03" fill="#d1e2f3"/>
<rect x="4" y="11" width="1.03" height="1.03" fill="#d0e1f2"/>
<rect x="5" y="11" width="1.03" height="1.03" fill="#cde0f1"/>
<rect x="6" y="11" width="1.03" height="1.03" fill="#cbdef1"/>
<rect x="7" y="11" width="1.03" height="1.03" fill="#caddf0"/>
<rect x="8" y="11" width="1.03" height="1.03" fill="#c7dcef"/>
<rect x="9" y="11" width="1.03" height="1.03" fill="#c4daee"/>
<rect x="10" y="11" width="1.03" height="1.03" fill="#bfd8ed"/>
<rect x="11" y="11" width="1.03" height="1.03" fill="#bcd7eb"/>
<rect x="12" y="11" width="1.03" height="1.03" fill="#b8d5ea"/>
<rect x="13" y="11" width="1.03" height="1.03" fill="#b4d3e9"/>
<rect x="14" y="11" width="1.03" height="1.03" fill="#b0d2e7"/>
<rect x="15" y="11" width="1.03" height="1.03" fill="#aed1e7"/>
<rect x="16" y="11" width="1.03" height="1.03" fill="#aacfe5"/>
<rect x="17" y="11" width="1.03" height="1.03" fill="#a9cfe5"/>
<rect x="18" y="11" width="1.03" height="1.03" fill="#a8cee4"/>
<rect x="19" y="11" width="1.03" height="1.03" fill="#a6cee4"/>
<rect x="20" y="11" width="1.03" height="1.03" fill="#a6cee4"/>
<rect x="21" y="11" width="1.03" height="1.03" fill="#a8cee4"/>
<rect x="22" y="11" width="1.03" height="1.03" fill="#a9cfe5"/>
<rect x="23" y="11" width="1.03" height="1.03" fill="#aacfe5"/>
<rect x="24" y="11" width="1.03" height="1.03" fill="#aed1e7"/>
<rect x="25" y="11" width="1.03" height="1.03" fill="#b0d2e7"/>
<rect x="26" y="11" width="1.03" height="1.03" fill="#b4d3e9"/>
<rect x="27" y="11" width="1.03" height="1.03" fill="#b8d5ea"/>
<rect x="28" y="11" width="1.03" height="1.03" fill="#bcd7eb"/>
<rect x="29" y="11" width="1.03" height="1.03" fill="#bfd8ed"/>
<rect x="30" y="11" width="1.03" height="1.03" fill="#c4daee"/>
<rect x="31" y="11" width="1.03" height="1.03" fill="#c7dcef"/>
<rect x="32" y="11" width="1.03" height="1.03" fill="#caddf0"/>
<rect x="33" y="11" width="1.03" height="1.03" fill="#cbdef1"/>
<rect x="34" y="11" width="1.03" height="1.03" fill="#cde0f1"/>
<rect x="35" y="11" width="1.03" height="1.03" fill="#d0e1f2"/>
<rect x="36" y="11" width="1.03" height="1.03" fill="#d1e2f3"/>
<rect x="37" y="11" width="1.03" height="1.03" fill="#d3e3f3"/>
<rect x="38" y="11" width="1.03" height="1.03" fill="#d5e5f4"/>
<rect x="39" y="11" width="1.03" height="1.03" fill="#d6e5f4"/>
<rect x="0" y="12" width="1.03" height="1.03" fill="#d6e5f4"/>
<rect x="1" y="12" width="1.03" height="1.03" fill="#d4e4f4"/>
<rect x="2" y="12" width="1.03" height="1.03" fill="#d2e3f3"/>
<rect x="3" y="12" width="1.03" height="1.03" fill="#d0e2f2"/>
<rect x="4" y="12" width="1.03" height="1.03" fill="#cee0f2"/>
<rect x="5" y="12" width="1.03" height="1.03" fill="#cddff1"/>
<rect x="6" y="12" width="1.03" height="1.03" fill="#cadef0"/>
<rect x="7" y="12" width="1.03" height="1.03" fill="#c8dcf0"/>
<rect x="8" y="12" width="1.03" height="1.03" fill="#c4daee"/>
<rect x="9" y="12" width="1.03" height="1.03" fill="#c1d9ed"/>
<rect x="10" y="12" width="1.03" height="1.03" fill="#bdd7ec"/>
<rect x="11" y="12" width="1.03" height="1.03" fill="#b8d5ea"/>
<rect x="12" y="12" width="1.03" height="1.03" fill="#b4d3e9"/>
<rect x="13" y="12" width="1.03" height="1.03" fill="#afd1e7"/>
<rect x="14" y="12" width="1.03" height="1.03" fill="#abd0e6"/>
<rect x="15" y="12" width="1.03" height="1.03" fill="#a8cee4"/>
<rect x="16" y="12" width="1.03" height="1.03" fill="#a5cde3"/>
<rect x="17" y="12" width="1.03" height="1.03" fill="#a3cce3"/>
<rect x="18" y="12" width="1.03" height="1.03" fill="#a0cbe2"/>
<rect x="19" y="12" width="1.03" height="1.03" fill="#a0cbe2"/>
<rect x="20" y="12" width="1.03" height="1.03" fill="#a0cbe2"/>
<rect x="21" y="12" width="1.03" height="1.03" fill="#a0cbe2"/>
<rect x="22" y="12" width="1.03" height="1.03" fill="#a3cce3"/>
<rect x="23" y="12" width="1.03" height="1.03" fill="#a5cde3"/>
<rect x="24" y="12" width="1.03" height="1.03" fill="#a8cee4"/>
<rect x="25" y="12" width="1.03" height="1.03" fill="#abd0e6"/>
<rect x="26" y="12" width="1.03" height="1.03" fill="#afd1e7"/>
<rect x="27" y="12" width="1.03" height="1.03" fill="#b4d3e9"/>
<rect x="28" y="12" width="1.03" height="1.03" fill="#b8d5ea"/>
<rect x="29" y="12" width="1.03" height="1.03" fill="#bdd7ec"/>
<rect x="30" y="12" width="1.03" height="1.03" fill="#c1d9ed"/>
<rect x="31" y="12" width="1.03" height="1.03" fill="#c4daee"/>
<rect x="32" y="12" width="1.03" height="1.03" fill="#c8dcf0"/>
<rect x="33" y="12" width="1.03" height="1.03" fill="#cadef0"/>
<rect x="34" y="12" width="1.03" height="1.03" fill="#cddff1"/>
<rect x="35" y="12" width="1.03" height="1.03" fill="#cee0f2"/>
<rect x="36" y="12" width="1.03" height="1.03" fill="#d0e2f2"/>
<rect x="37" y="12" width="1.03" height="1.03" fill="#d2e3f3"/>
<rect x="38" y="12" width="1.03" height="1.03" fill="#d4e4f4"/>
<rect x="39" y="12" width="1.03" height="1.03" fill="#d6e5f4"/>
<rect x="0" y="13" width="1.03" height="1.03" fill="#d5e5f4"/>
<rect x="1" y="13" width="1.03" height="1.03" fill="#d3e4f3"/>
<rect x="2" y="13" width="1.03" height="1.03" fill="#d1e2f3"/>
<rect x="3" y="13" width="1.03" height="1.03" fill="#d0e1f2"/>
<rect x="4" y="13" width="1.03" height="1.03" fill="#cde0f1"/>
<rect x="5" y="13" width="1.03" height="1.03" fill="#cbdef1"/>
<rect x="6" y="13" width="1.03" height="1.03" fill="#c9ddf0"/>
<rect x="7" y="13" width="1.03" height="1.03" fill="#c7dbef"/>
<rect x="8" y="13" width="1.03" height="1.03" fill="#c2d9ee"/>
<rect x="9" y="13" width="1.03" height="1.03" fill="#bed8ec"/>
<rect x="10" y="13" width="1.03" height="1.03" fill="#b9d6ea"/>
<rect x="11" y="13" width="1.03" height="1.03" fill="#b4d3e9"/>
<rect x="12" y="13" width="1.03" height="1.03" fill="#afd1e7"/>
<rect x="13" y="13" width="1.03" height="1.03" fill="#aacfe5"/>
<rect x="14" y="13" width="1.03" height="1.03" fill="#a6cee4"/>
<rect x="15" y="13" width="1.03" height="1.03" fill="#a3cce3"/>
<rect x="16" y="13" width="1.03" height="1.03" fill="#9fcae1"/>
<rect x="17" y="13" width="1.03" height="1.03" fill="#9cc9e1"/>
<rect x="18" y="13" width="1.03" height="1.03" fill="#99c7e0"/>
<rect x="19" y="13" width="1.03" height="1.03" fill="#97c6df"/>
<rect x="20" y="13" width="1.03" height="1.03" fill="#97c6df"/>
<rect x="21" y="13" width="1.03" height="1.03" fill="#99c7e0"/>
<rect x="22" y="13" width="1.03" height="1.03" fill="#9cc9e1"/>
<rect x="23" y="13" width="1.03" height="1.03" fill="#9fcae1"/>
<rect x="24" y="13" width="1.03" height="1.03" fill="#a3cce3"/>
<rect x="25" y="13" width="1.03" height="1.03" fill="#a6cee4"/>
<rect x="26" y="13" width="1.03" height="1.03" fill="#aacfe5"/>
<rect x="27" y="13" width="1.03" height="1.03" fill="#afd1e7"/>
<rect x="28" y="13" width="1.03" height="1.03" fill="#b4d3e9"/>
<rect x="29" y="13" width="1.03" height="1.03" fill="#b9d6ea"/>
<rect x="30" y="13" width="1.03" height="1.03" fill="#bed8ec"/>
<rect x="31" y="13" width="1.03" height="1.03" fill="#c2d9ee"/>
<rect x="32" y="13" width="1.03" height="1.03" fill="#c7dbef"/>
<rect x="33" y="13" width="1.03" height="1.03" fill="#c9ddf0"/>
<rect x="34" y="13" width="1.03" height="1.03" fill="#cbdef1"/>
<rect x="35" y="13" width="1.03" height="1.03" fill="#cde0f1"/>
<rect x="36" y="13" width="1.03" height="1.03" fill="#d0e1f2"/>
<rect x="37" y="13" width="1.03" height="1.03" fill="#d1e2f3"/>
<rect x="38" y="13" width="1.03" height="1.03" fill="#d3e4f3"/>
<rect x="39" y="13" width="1.03" height="1.03" fill="#d5e5f4"/>
<rect x="0" y="14" width="1.03" height="1.03" fill="#d4e4f4"/>
<rect x="1" y="14" width="1.03" height="1.03" fill="#d3e3f3"/>
<rect x="2" y="14" width="1.03" height="1.03" fill="#d1e2f3"/>
<rect x="3" y="14" width="1.03" height="1.03" fill="#cfe1f2"/>
<rect x="4" y="14" width="1.03" height="1.03" fill="#cddff1"/>
<rect x="5" y="14" width="1.03" height="1.03" fill="#cadef0"/>
<rect x="6" y="14" width="1.03" height="1.03" fill="#c8dcf0"/>
<rect x="7" y="14" width="1.03" height="1.03" fill="#c4daee"/>
<rect x="8" y="14" width="1.03" height="1.03" fill="#bfd8ed"/>
<rect x="9" y="14" width="1.03" height="1.03" fill="#bcd7eb"/>
<rect x="10" y="14" width="1.03" height="1.03" fill="#b5d4e9"/>
<rect x="11" y="14" width="1.03" height="1.03" fill="#b0d2e7"/>
<rect x="12" y="14" width="1.03" height="1.03" fill="#abd0e6"/>
<rect x="13" y="14" width="1.03" height="1.03" fill="#a6cee4"/>
<rect x="14" y="14" width="1.03" height="1.03" fill="#a1cbe2"/>
<rect x="15" y="14" width="1.03" height="1.03" fill="#9cc9e1"/>
<rect x="16" y="14" width="1.03" height="1.03" fill="#97c6df"/>
<rect x="17" y="14" width="1.03" height="1.03" fill="#94c4df"/>
<rect x="18" y="14" width="1.03" height="1.03" fill="#91c3de"/>
<rect x="19" y="14" width="1.03" height="1.03" fill="#8fc2de"/>
<rect x="20" y="14" width="1.03" height="1.03" fill="#8fc2de"/>
<rect x="21" y="14" width="1.03" height="1.03" fill="#91c3de"/>
<rect x="22" y="14" width="1.03" height="1.03" fill="#94c4df"/>
<rect x="23" y="14" width="1.03" height="1.03" fill="#97c6df"/>
<rect x="24" y="14" width="1.03" height="1.03" fill="#9cc9e1"/>
<rect x="25" y="14" width="1.03" height="1.03" fill="#a1cbe2"/>
<rect x="26" y="14" width="1.03" height="1.03" fill="#a6cee4"/>
<rect x="27" y="14" width="1.03" height="1.03" fill="#abd0e6"/>
<rect x="28" y="14" width="1.03" height="1.03" fill="#b0d2e7"/>
<rect x="29" y="14" width="1.03" height="1.03" fill="#b5d4e9"/>
<rect x="30" y="14" width="1.03" height="1.03" fill="#bcd7eb"/>
<rect x="31" y="14" width="1.03" height="1.03" fill="#bfd8ed"/>
<rect x="32" y="14" width="1.03" height="1.03" fill="#c4daee"/>
<rect x="33" y="14" width="1.03" height="1.03" fill="#c8dcf0"/>
<rect x="34" y="14" width="1.03" height="1.03" fill="#cadef0"/>
<rect x="35" y="14" width="1.03" height="1.03" fill="#cddff1"/>
<rect x="36" y="14" width="1.03" height="1.03" fill="#cfe1f2"/>
<rect x="37" y="14" width="1.03" height="1.03" fill="#d1e2f3"/>
<rect x="38" y="14" width="1.03" height="1.03" fill="#d3e3f3"/>
<rect x="39" y="14" width="1.03" height="1.03" fill="#d4e4f4"/>
<rect x="0" y="15" width="1.03" height="1.03" fill="#d4e4f4"/>
<rect x="1" y="15" width="1.03" height="1.03" fill="#d2e3f3"/>
<rect x="2" y="15" width="1.03" height="1.03" fill="#d0e2f2"/>
<rect x="3" y="15" width="1.03" height="1.03" fill="#cee0f2"/>
<rect x="4" y="15" width="1.03" height="1.03" fill="#ccdff1"/>
<rect x="5" y="15" width="1.03" height="1.03" fill="#caddf0"/>
<rect x="6" y="15" width="1.03" height="1.03" fill="#c7dbef"/>
<rect x="7" y="15" width="1.03" height="1.03" fill="#c3daee"/>
<rect x="8" y="15" width="1.03" height="1.03" fill="#bed8ec"/>
<rect x="9" y="15" width="1.03" height="1.03" fill="#b9d6ea"/>
<rect x="10" y="15" width="1.03" height="1.03" fill="#b3d3e8"/>
<rect x="11" y="15" width="1.03" height="1.03" fill="#aed1e7"/>
<rect x="12" y="15" width="1.03" height="1.03" fill="#a8cee4"/>
<rect x="13" y="15" width="1.03" height="1.03" fill="#a3cce3"/>
<rect x="14" y="15" width="1.03" height="1.03" fill="#9cc9e1"/>
<rect x="15" y="15" width="1.03" height="1.03" fill="#95c5df"/>
<rect x="16" y="15" width="1.03" height="1.03" fill="#91c3de"/>
<rect x="17" y="15" width="1.03" height="1.03" fill="#8cc0dd"/>
<rect x="18" y="15" width="1.03" height="1.03" fill="#89bedc"/>
<rect x="19" y="15" width="1.03" height="1.03" fill="#89bedc"/>
<rect x="20" y="15" width="1.03" height="1.03" fill="#89bedc"/>
<rect x="21" y="15" width="1.03" height="1.03" fill="#89bedc"/>
<rect x="22" y="15" width="1.03" height="1.03" fill="#8cc0dd"/>
<rect x="23" y="15" width="1.03" height="1.03" fill="#91c3de"/>
<rect x="24" y="15" width="1.03" height="1.03" fill="#95c5df"/>
<rect x="25" y="15" width="1.03" height="1.03" fill="#9cc9e1"/>
<rect x="26" y="15" width="1.03" height="1.03" fill="#a3cce3"/>
<rect x="27" y="15" width="1.03" height="1.03" fill="#a8cee4"/>
<rect x="28" y="15" width="1.03" height="1.03" fill="#aed1e7"/>
<rect x="29" y="15" width="1.03" height="1.03" fill="#b3d3e8"/>
<rect x="30" y="15" width="1.03" height="1.03" fill="#b9d6ea"/>
<rect x="31" y="15" width="1.03" height="1.03" fill="#bed8ec"/>
<rect x="32" y="15" width="1.03" height="1.03" fill="#c3daee"/>
<rect x="33" y="15" width="1.03" height="1.03" fill="#c7dbef"/>
<rect x="34" y="15" width="1.03" height="1.03" fill="#caddf0"/>
<rect x="35" y="15" width="1.03" height="1.03" fill="#ccdff1"/>
<rect x="36" y="15" width="1.03" height="1.03" fill="#cee0f2"/>
<rect x="37" y="15" width="1.03" height="1.03" fill="#d0e2f2"/>
<rect x="38" y="15" width="1.03" height="1.03" fill="#d2e3f3"/>
<rect x="39" y="15" width="1.03" height="1.03" fill="#d4e4f4"/>
<rect x="0" y="16" width="1.03" height="1.03" fill="#d3e4f3"/>
<rect x="1" y="16" width="1.03" height="1.03" fill="#d2e3f3"/>
<rect x="2" y="16" width="1.03" height="1.03" fill="#d0e1f2"/>
<rect x="3" y="16" width="1.03" height="1.03" fill="#cde0f1"/>
<rect x="4" y="16" width="1.03" height="1.03" fill="#cbdef1"/>
<rect x="5" y="16" width="1.03" height="1.03" fill="#c9ddf0"/>
<rect x="6" y="16" width="1.03" height="1.03" fill="#c6dbef"/>
<rect x="7" y="16" width="1.03" height="1.03" fill="#c1d9ed"/>
<rect x="8" y="16" width="1.03" height="1.03" fill="#bcd7eb"/>
<rect x="9" y="16" width="1.03" height="1.03" fill="#b7d4ea"/>
<rect x="10" y="16" width="1.03" height="1.03" fill="#b0d2e7"/>
<rect x="11" y="16" width="1.03" height="1.03" fill="#aacfe5"/>
<rect x="12" y="16" width="1.03" height="1.03" fill="#a5cde3"/>
<rect x="13" y="16" width="1.03" height="1.03" fill="#9fcae1"/>
<rect x="14" y="16" width="1.03" height="1.03" fill="#97c6df"/>
<rect x="15" y="16" width="1.03" height="1.03" fill="#91c3de"/>
<rect x="16" y="16" width="1.03" height="1.03" fill="#8abfdd"/>
<rect x="17" y="16" width="1.03" height="1.03" fill="#85bcdc"/>
<rect x="18" y="16" width="1.03" height="1.03" fill="#82bbdb"/>
<rect x="19" y="16" width="1.03" height="1.03" fill="#81badb"/>
<rect x="20" y="16" width="1.03" height="1.03" fill="#81badb"/>
<rect x="21" y="16" width="1.03" height="1.03" fill="#82bbdb"/>
<rect x="22" y="16" width="1.03" height="1.03" fill="#85bcdc"/>
<rect x="23" y="16" width="1.03" height="1.03" fill="#8abfdd"/>
<rect x="24" y="16" width="1.03" height="1.03" fill="#91c3de"/>
<rect x="25" y="16" width="1.03" height="1.03" fill="#97c6df"/>
<rect x="26" y="16" width="1.03" height="1.03" fill="#9fcae1"/>
<rect x="27" y="16" width="1.03" height="1.03" fill="#a5cde3"/>
<rect x="28" y="16" width="1.03" height="1.03" fill="#aacfe5"/>
<rect x="29" y="16" width="1.03" height="1.03" fill="#b0d2e7"/>
<rect x="30" y="16" width="1.03" height="1.03" fill="#b7d4ea"/>
<rect x="31" y="16" width="1.03" height="1.03" fill="#bcd7eb"/>
<rect x="32" y="16" width="1.03" height="1.03" fill="#c1d9ed"/>
<rect x="33" y="16" width="1.03" height="1.03" fill="#c6dbef"/>
<rect x="34" y="16" width="1.03" height="1.03" fill="#c9ddf0"/>
<rect x="35" y="16" width="1.03" height="1.03" fill="#cbdef1"/>
<rect x="36" y="16" width="1.03" height="1.03" fill="#cde0f1"/>
<rect x="37" y="16" width="1.03" height="1.03" fill="#d0e1f2"/>
<rect x="38" y="16" width="1.03" height="1.03" fill="#d2e3f3"/>
<rect x="39" y="16" width="1.03" height="1.03" fill="#d3e4f3"/>
<rect x="0" y="17" width="1.03" height="1.03" fill="#d3e4f3"/>
<rect x="1" y="17" width="1.03" height="1.03" fill="#d1e2f3"/>
<rect x="2" y="17" width="1.03" height="1.03" fill="#d0e1f2"/>
<rect x="3" y="17" width="1.03" height="1.03" fill="#cde0f1"/>
<rect x="4" y="17" width="1.03" height="1.03" fill="#cbdef1"/>
<rect x="5" y="17" width="1.03" height="1.03" fill="#c8dcf0"/>
<rect x="6" y="17" width="1.03" height="1.03" fill="#c6dbef"/>
<rect x="7" y="17" width="1.03" height="1.03" fill="#c1d9ed"/>
<rect x="8" y="17" width="1.03" height="1.03" fill="#bad6eb"/>
<rect x="9" y="17" width="1.03" height="1.03" fill="#b5d4e9"/>
<rect x="10" y="17" width="1.03" height="1.03" fill="#afd1e7"/>
<rect x="11" y="17" width="1.03" height="1.03" fill="#a9cfe5"/>
<rect x="12" y="17" width="1.03" height="1.03" fill="#a3cce3"/>
<rect x="13" y="17" width="1.03" height="1.03" fill="#9cc9e1"/>
<rect x="14" y="17" width="1.03" height="1.03" fill="#94c4df"/>
<rect x="15" y="17" width="1.03" height="1.03" fill="#8cc0dd"/>
<rect x="16" y="17" width="1.03" height="1.03" fill="#85bcdc"/>
<rect x="17" y="17" width="1.03" height="1.03" fill="#81badb"/>
<rect x="18" y="17" width="1.03" height="1.03" fill="#7db8da"/>
<rect x="19" y="17" width="1.03" height="1.03" fill="#7cb7da"/>
<rect x="20" y="17" width="1.03" height="1.03" fill="#7cb7da"/>
<rect x="21" y="17" width="1.03" height="1.03" fill="#7db8da"/>
<rect x="22" y="17" width="1.03" height="1.03" fill="#81badb"/>
<rect x="23" y="17" width="1.03" height="1.03" fill="#85bcdc"/>
<rect x="24" y="17" width="1.03" height="1.03" fill="#8cc0dd"/>
<rect x="25" y="17" width="1.03" height="1.03" fill="#94c4df"/>
<rect x="26" y="17" width="1.03" height="1.03" fill="#9cc9e1"/>
<rect x="27" y="17" width="1.03" height="1.03" fill="#a3cce3"/>
<rect x="28" y="17" width="1.03" height="1.03" fill="#a9cfe5"/>
<rect x="29" y="17" width="1.03" height="1.03" fill="#afd1e7"/>
<rect x="30" y="17" width="1.03" height="1.03" fill="#b5d4e9"/>
<rect x="31" y="17" width="1.03" height="1.03" fill="#bad6eb"/>
<rect x="32" y="17" width="1.03" height="1.03" fill="#c1d9ed"/>
<rect x="33" y="17" width="1.03" height="1.03" fill="#c6dbef"/>
<rect x="34" y="17" width="1.03" height="1.03" fill="#c8dcf0"/>
<rect x="35" y="17" width="1.03" height="1.03" fill="#cbdef1"/>
<rect x="36" y="17" width="1.03" height="1.03" fill="#cde0f1"/>
<rect x="37" y="17" width="1.03" height="1.03" fill="#d0e1f2"/>
<rect x="38" y="17" width="1.03" height="1.03" fill="#d1e2f3"/>
<rect x="39" y="17" width="1.03" height="1.03" fill="#d3e4f3"/>
<rect x="0" y="18" width="1.03" height="1.03" fill="#d3e4f3"/>
<rect x="1" y="18" width="1.03" height="1.03" fill="#d1e2f3"/>
<rect x="2" y="18" width="1.03" height="1.03" fill="#cfe1f2"/>
<rect x="3" y="18" width="1.03" height="1.03" fill="#cddff1"/>
<rect x="4" y="18" width="1.03" height="1.03" fill="#cadef0"/>
<rect x="5" y="18" width="1.03" height="1.03" fill="#c8dcf0"/>
<rect x="6" y="18" width="1.03" height="1.03" fill="#c4daee"/>
<rect x="7" y="18" width="1.03" height="1.03" fill="#bfd8ed"/>
<rect x="8" y="18" width="1.03" height="1.03" fill="#b9d6ea"/>
<rect x="9" y="18" width="1.03" height="1.03" fill="#b4d3e9"/>
<rect x="10" y="18" width="1.03" height="1.03" fill="#aed1e7"/>
<rect x="11" y="18" width="1.03" height="1.03" fill="#a8cee4"/>
<rect x="12" y="18" width="1.03" height="1.03" fill="#a0cbe2"/>
<rect x="13" y="18" width="1.03" height="1.03" fill="#99c7e0"/>
<rect x="14" y="18" width="1.03" height="1.03" fill="#91c3de"/>
<rect x="15" y="18" width="1.03" height="1.03" fill="#89bedc"/>
<rect x="16" y="18" width="1.03" height="1.03" fill="#82bbdb"/>
<rect x="17" y="18" width="1.03" height="1.03" fill="#7db8da"/>
<rect x="18" y="18" width="1.03" height="1.03" fill="#7ab6d9"/>
<rect x="19" y="18" width="1.03" height="1.03" fill="#79b5d9"/>
<rect x="20" y="18" width="1.03" height="1.03" fill="#79b5d9"/>
<rect x="21" y="18" width="1.03" height="1.03" fill="#7ab6d9"/>
<rect x="22" y="18" width="1.03" height="1.03" fill="#7db8da"/>
<rect x="23" y="18" width="1.03" height="1.03" fill="#82bbdb"/>
<rect x="24" y="18" width="1.03" height="1.03" fill="#89bedc"/>
<rect x="25" y="18" width="1.03" height="1.03" fill="#91c3de"/>
<rect x="26" y="18" width="1.03" height="1.03" fill="#99c7e0"/>
<rect x="27" y="18" width="1.03" height="1.03" fill="#a0cbe2"/>
<rect x="28" y="18" width="1.03" height="1.03" fill="#a8cee4"/>
<rect x="29" y="18" width="1.03" height="1.03" fill="#aed1e7"/>
<rect x="30" y="18" width="1.03" height="1.03" fill="#b4d3e9"/>
<rect x="31" y="18" width="1.03" height="1.03" fill="#b9d6ea"/>
<rect x="32" y="18" width="1.03" height="1.03" fill="#bfd8ed"/>
<rect x="33" y="18" width="1.03" height="1.03" fill="#c4daee"/>
<rect x="34" y="18" width="1.03" height="1.03" fill="#c8dcf0"/>
<rect x="35" y="18" width="1.03" height="1.03" fill="#cadef0"/>
<rect x="36" y="18" width="1.03" height="1.03" fill="#cddff1"/>
<rect x="37" y="18" width="1.03" height="1.03" fill="#cfe1f2"/>
<rect x="38" y="18" width="1.03" height="1.03" fill="#d1e2f3"/>
<rect x="39" y="18" width="1.03" height="1.03" fill="#d3e4f3"/>
<rect x="0" y="19" width="1.03" height="1.03" fill="#d3e4f3"/>
<rect x="1" y="19" width="1.03" height="1.03" fill="#d1e2f3"/>
<rect x="2" y="19" width="1.03" height="1.03" fill="#cfe1f2"/>
<rect x="3" y="19" width="1.03" height="1.03" fill="#cddff1"/>
<rect x="4" y="19" width="1.03" height="1.03" fill="#cadef0"/>
<rect x="5" y="19" width="1.03" height="1.03" fill="#c7dcef"/>
<rect x="6" y="19" width="1.03" height="1.03" fill="#c4daee"/>
<rect x="7" y="19" width="1.03" height="1.03" fill="#bfd8ed"/>
<rect x="8" y="19" width="1.03" height="1.03" fill="#b9d6ea"/>
<rect x="9" y="19" width="1.03" height="1.03" fill="#b3d3e8"/>
<rect x="10" y="19" width="1.03" height="1.03" fill="#add0e6"/>
<rect x="11" y="19" width="1.03" height="1.03" fill="#a6cee4"/>
<rect x="12" y="19" width="1.03" height="1.03" fill="#a0cbe2"/>
<rect x="13" y="19" width="1.03" height="1.03" fill="#97c6df"/>
<rect x="14" y="19" width="1.03" height="1.03" fill="#8fc2de"/>
<rect x="15" y="19" width="1.03" height="1.03" fill="#89bedc"/>
<rect x="16" y="19" width="1.03" height="1.03" fill="#81badb"/>
<rect x="17" y="19" width="1.03" height="1.03" fill="#7cb7da"/>
<rect x="18" y="19" width="1.03" height="1.03" fill="#79b5d9"/>
<rect x="19" y="19" width="1.03" height="1.03" fill="#77b5d9"/>
<rect x="20" y="19" width="1.03" height="1.03" fill="#77b5d9"/>
<rect x="21" y="19" width="1.03" height="1.03" fill="#79b5d9"/>
<rect x="22" y="19" width="1.03" height="1.03" fill="#7cb7da"/>
<rect x="23" y="19" width="1.03" height="1.03" fill="#81badb"/>
<rect x="24" y="19" width="1.03" height="1.03" fill="#89bedc"/>
<rect x="25" y="19" width="1.03" height="1.03" fill="#8fc2de"/>
<rect x="26" y="19" width="1.03" height="1.03" fill="#97c6df"/>
<rect x="27" y="19" width="1.03" height="1.03" fill="#a0cbe2"/>
<rect x="28" y="19" width="1.03" height="1.03" fill="#a6cee4"/>
<rect x="29" y="19" width="1.03" height="1.03" fill="#add0e6"/>
<rect x="30" y="19" width="1.03" height="1.03" fill="#b3d3e8"/>
<rect x="31" y="19" width="1.03" height="1.03" fill="#b9d6ea"/>
<rect x="32" y="19" width="1.03" height="1.03" fill="#bfd8ed"/>
<rect x="33" y="19" width="1.03" height="1.03" fill="#c4daee"/>
<rect x="34" y="19" width="1.03" height="1.03" fill="#c7dcef"/>
<rect x="35" y="19" width="1.03" height="1.03" fill="#cadef0"/>
<rect x="36" y="19" width="1.03" height="1.03" fill="#cddff1"/>
<rect x="37" y="19" width="1.03" height="1.03" fill="#cfe1f2"/>
<rect x="38" y="19" width="1.03" height="1.03" fill="#d1e2f3"/>
<rect x="39" y="19" width="1.03" height="1.03" fill="#d3e4f3"/>
<rect x="0" y="20" width="1.03" height="1.03" fill="#d3e4f3"/>
<rect x="1" y="20" width="1.03" height="1.03" fill="#d1e2f3"/>
<rect x="2" y="20" width="1.03" height="1.03" fill="#cfe1f2"/>
<rect x="3" y="20" width="1.03" height="1.03" fill="#cddff1"/>
<rect x="4" y="20" width="1.03" height="1.03" fill="#cadef0"/>
<rect x="5" y="20" width="1.03" height="1.03" fill="#c7dcef"/>
<rect x="6" y="20" width="1.03" height="1.03" fill="#c4daee"/>
<rect x="7" y="20" width="1.03" height="1.03" fill="#bfd8ed"/>
<rect x="8" y="20" width="1.03" height="1.03" fill="#b9d6ea"/>
<rect x="9" y="20" width="1.03" height="1.03" fill="#b3d3e8"/>
<rect x="10" y="20" width="1.03" height="1.03" fill="#add0e6"/>
<rect x="11" y="20" width="1.03" height="1.03" fill="#a6cee4"/>
<rect x="12" y="20" width="1.03" height="1.03" fill="#a0cbe2"/>
<rect x="13" y="20" width="1.03" height="1.03" fill="#97c6df"/>
<rect x="14" y="20" width="1.03" height="1.03" fill="#8fc2de"/>
<rect x="15" y="20" width="1.03" height="1.03" fill="#89bedc"/>
<rect x="16" y="20" width="1.03" height="1.03" fill="#81badb"/>
<rect x="17" y="20" width="1.03" height="1.03" fill="#7cb7da"/>
<rect x="18" y="20" width="1.03" height="1.03" fill="#79b5d9"/>
<rect x="19" y="20" width="1.03" height="1.03" fill="#77b5d9"/>
<rect x="20" y="20" width="1.03" height="1.03" fill="#77b5d9"/>
<rect x="21" y="20" width="1.03" height="1.03" fill="#79b5d9"/>
<rect x="22" y="20" width="1.03" height="1.03" fill="#7cb7da"/>
<rect x="23" y="20" width="1.03" height="1.03" fill="#81badb"/>
<rect x="24" y="20" width="1.03" height="1.03" fill="#89bedc"/>
<rect x="25" y="20" width="1.03" height="1.03" fill="#8fc2de"/>
<rect x="26" y="20" width="1.03" height="1.03" fill="#97c6df"/>
<rect x="27" y="20" width="1.03" height="1.03" fill="#a0cbe2"/>
<rect x="28" y="20" width="1.03" height="1.03" fill="#a6cee4"/>
<rect x="29" y="20" width="1.03" height="1.03" fill="#add0e6"/>
<rect x="30" y="20" width="1.03" height="1.03" fill="#b3d3e8"/>
<rect x="31" y="20" width="1.03" height="1.03" fill="#b9d6ea"/>
<rect x="32" y="20" width="1.03" height="1.03" fill="#bfd8ed"/>
<rect x="33" y="20" width="1.03" height="1.03" fill="#c4daee"/>
<rect x="34" y="20" width="1.03" height="1.03" fill="#c7dcef"/>
<rect x="35" y="20" width="1.03" height="1.03" fill="#cadef0"/>
<rect x="36" y="20" width="1.03" height="1.03" fill="#cddff1"/>
<rect x="37" y="20" width="1.03" height="1.03" fill="#cfe1f2"/>
<rect x="38" y="20" width="1.03" height="1.03" fill="#d1e2f3"/>
<rect x="39" y="20" width="1.03" height="1.03" fill="#d3e4f3"/>
<rect x="0" y="21" width="1.03" height="1.03" fill="#d3e4f3"/>
<rect x="1" y="21" width="1.03" height="1.03" fill="#d1e2f3"/>
<rect x="2" y="21" width="1.03" height="1.03" fill="#cfe1f2"/>
<rect x="3" y="21" width="1.03" height="1.03" fill="#cddff1"/>
<rect x="4" y="21" width="1.03" height="1.03" fill="#cadef0"/>
<rect x="5" y="21" width="1.03" height="1.03" fill="#c8dcf0"/>
<rect x="6" y="21" width="1.03" height="1.03" fill="#c4daee"/>
<rect x="7" y="21" width="1.03" height="1.03" fill="#bfd8ed"/>
<rect x="8" y="21" width="1.03" height="1.03" fill="#b9d6ea"/>
<rect x="9" y="21" width="1.03" height="1.03" fill="#b4d3e9"/>
<rect x="10" y="21" width="1.03" height="1.03" fill="#aed1e7"/>
<rect x="11" y="21" width="1.03" height="1.03" fill="#a8cee4"/>
<rect x="12" y="21" width="1.03" height="1.03" fill="#a0cbe2"/>
<rect x="13" y="21" width="1.03" height="1.03" fill="#99c7e0"/>
<rect x="14" y="21" width="1.03" height="1.03" fill="#91c3de"/>
<rect x="15" y="21" width="1.03" height="1.03" fill="#89bedc"/>
<rect x="16" y="21" width="1.03" height="1.03" fill="#82bbdb"/>
<rect x="17" y="21" width="1.03" height="1.03" fill="#7db8da"/>
<rect x="18" y="21" width="1.03" height="1.03" fill="#7ab6d9"/>
<rect x="19" y="21" width="1.03" height="1.03" fill="#79b5d9"/>
<rect x="20" y="21" width="1.03" height="1.03" fill="#79b5d9"/>
<rect x="21" y="21" width="1.03" height="1.03" fill="#7ab6d9"/>
<rect x="22" y="21" width="1.03" height="1.03" fill="#7db8da"/>
<rect x="23" y="21" width="1.03" height="1.03" fill="#82bbdb"/>
<rect x="24" y="21" width="1.03" height="1.03" fill="#89bedc"/>
<rect x="25" y="21" width="1.03" height="1.03" fill="#91c3de"/>
<rect x="26" y="21" width="1.03" height="1.03" fill="#99c7e0"/>
<rect x="27" y="21" width="1.03" height="1.03" fill="#a0cbe2"/>
<rect x="28" y="21" width="1.03" height="1.03" fill="#a8cee4"/>
<rect x="29" y="21" width="1.03" height="1.03" fill="#aed1e7"/>
<rect x="30" y="21" width="1.03" height="1.03" fill="#b4d3e9"/>
<rect x="31" y="21" width="1.03" height="1.03" fill="#b9d6ea"/>
<rect x="32" y="21" width="1.03" height="1.03" fill="#bfd8ed"/>
<rect x="33" y="21" width="1.03" height="1.03" fill="#c4daee"/>
<rect x="34" y="21" width="1.03" height="1.03" fill="#c8dcf0"/>
<rect x="35" y="21" width="1.03" height="1.03" fill="#cadef0"/>
<rect x="36" y="21" width="1.03" height="1.03" fill="#cddff1"/>
<rect x="37" y="21" width="1.03" height="1.03" fill="#cfe1f2"/>
<rect x="38" y="21" width="1.03" height="1.03" fill="#d1e2f3"/>
<rect x="39" y="21" width="1.03" height="1.03" fill="#d3e4f3"/>
<rect x="0" y="22" width="1.03" height="1.03" fill="#d3e4f3"/>
<rect x="1" y="22" width="1.03" height="1.03" fill="#d1e2f3"/>
<rect x="2" y="22" width="1.03" height="1.03" fill="#d0e1f2"/>
<rect x="3" y="22" width="1.03" height="1.03" fill="#cde0f1"/>
<rect x="4" y="22" width="1.03" height="1.03" fill="#cbdef1"/>
<rect x="5" y="22" width="1.03" height="1.03" fill="#c8dcf0"/>
<rect x="6" y="22" width="1.03" height="1.03" fill="#c6dbef"/>
<rect x="7" y="22" width="1.03" height="1.03" fill="#c1d9ed"/>
<rect x="8" y="22" width="1.03" height="1.03" fill="#bad6eb"/>
<rect x="9" y="22" width="1.03" height="1.03" fill="#b5d4e9"/>
<rect x="10" y="22" width="1.03" height="1.03" fill="#afd1e7"/>
<rect x="11" y="22" width="1.03" height="1.03" fill="#a9cfe5"/>
<rect x="12" y="22" width="1.03" height="1.03" fill="#a3cce3"/>
<rect x="13" y="22" width="1.03" height="1.03" fill="#9cc9e1"/>
<rect x="14" y="22" width="1.03" height="1.03" fill="#94c4df"/>
<rect x="15" y="22" width="1.03" height="1.03" fill="#8cc0dd"/>
<rect x="16" y="22" width="1.03" height="1.03" fill="#85bcdc"/>
<rect x="17" y="22" width="1.03" height="1.03" fill="#81badb"/>
<rect x="18" y="22" width="1.03" height="1.03" fill="#7db8da"/>
<rect x="19" y="22" width="1.03" height="1.03" fill="#7cb7da"/>
<rect x="20" y="22" width="1.03" height="1.03" fill="#7cb7da"/>
<rect x="21" y="22" width="1.03" height="1.03" fill="#7db8da"/>
<rect x="22" y="22" width="1.03" height="1.03" fill="#81badb"/>
<rect x="23" y="22" width="1.03" height="1.03" fill="#85bcdc"/>
<rect x="24" y="22" width="1.03" height="1.03" fill="#8cc0dd"/>
<rect x="25" y="22" width="1.03" height="1.03" fill="#94c4df"/>
<rect x="26" y="22" width="1.03" height="1.03" fill="#9cc9e1"/>
<rect x="27" y="22" width="1.03" height="1.03" fill="#a3cce3"/>
<rect x="28" y="22" width="1.03" height="1.03" fill="#a9cfe5"/>
<rect x="29" y="22" width="1.03" height="1.03" fill="#afd1e7"/>
<rect x="30" y="22" width="1.03" height="1.03" fill="#b5d4e9"/>
<rect x="31" y="22" width="1.03" height="1.03" fill="#bad6eb"/>
<rect x="32" y="22" width="1.03" height="1.03" fill="#c1d9ed"/>
<rect x="33" y="22" width="1.03" height="1.03" fill="#c6dbef"/>
<rect x="34" y="22" width="1.03" height="1.03" fill="#c8dcf0"/>
<rect x="35" y="22" width="1.03" height="1.03" fill="#cbdef1"/>
<rect x="36" y="22" width="1.03" height="1.03" fill="#cde0f1"/>
<rect x="37" y="22" width="1.03" height="1.03" fill="#d0e1f2"/>
<rect x="38" y="22" width="1.03" height="1.03" fill="#d1e2f3"/>
<rect x="39" y="22" width="1.03" height="1.03" fill="#d3e4f3"/>
<rect x="0" y="23" width="1.03" height="1.03" fill="#d3e4f3"/>
<rect x="1" y="23" width="1.03" height="1.03" fill="#d2e3f3"/>
<rect x="2" y="23" width="1.03" height="1.03" fill="#d0e1f2"/>
<rect x="3" y="23" width="1.03" height="1.03" fill="#cde0f1"/>
<rect x="4" y="23" width="1.03" height="1.03" fill="#cbdef1"/>
<rect x="5" y="23" width="1.03" height="1.03" fill="#c9ddf0"/>
<rect x="6" y="23" width="1.03" height="1.03" fill="#c6dbef"/>
<rect x="7" y="23" width="1.03" height="1.03" fill="#c1d9ed"/>
<rect x="8" y="23" width="1.03" height="1.03" fill="#bcd7eb"/>
<rect x="9" y="23" width="1.03" height="1.03" fill="#b7d4ea"/>
<rect x="10" y="23" width="1.03" height="1.03" fill="#b0d2e7"/>
<rect x="11" y="23" width="1.03" height="1.03" fill="#aacfe5"/>
<rect x="12" y="23" width="1.03" height="1.03" fill="#a5cde3"/>
<rect x="13" y="23" width="1.03" height="1.03" fill="#9fcae1"/>
<rect x="14" y="23" width="1.03" height="1.03" fill="#97c6df"/>
<rect x="15" y="23" width="1.03" height="1.03" fill="#91c3de"/>
<rect x="16" y="23" width="1.03" height="1.03" fill="#8abfdd"/>
<rect x="17" y="23" width="1.03" height="1.03" fill="#85bcdc"/>
<rect x="18" y="23" width="1.03" height="1.03" fill="#82bbdb"/>
<rect x="19" y="23" width="1.03" height="1.03" fill="#81badb"/>
<rect x="20" y="23" width="1.03" height="1.03" fill="#81badb"/>
<rect x="21" y="23" width="1.03" height="1.03" fill="#82bbdb"/>
<rect x="22" y="23" width="1.03" height="1.03" fill="#85bcdc"/>
<rect x="23" y="23" width="1.03" height="1.03" fill="#8abfdd"/>
<rect x="24" y="23" width="1.03" height="1.03" fill="#91c3de"/>
<rect x="25" y="23" width="1.03" height="1.03" fill="#97c6df"/>
<rect x="26" y="23" width="1.03" height="1.03" fill="#9fcae1"/>
<rect x="27" y="23" width="1.03" height="1.03" fill="#a5cde3"/>
<rect x="28" y="23" width="1.03" height="1.03" fill="#aacfe5"/>
<rect x="29" y="23" width="1.03" height="1.03" fill="#b0d2e7"/>
<rect x="30" y="23" width="1.03" height="1.03" fill="#b7d4ea"/>
<rect x="31" y="23" width="1.03" height="1.03" fill="#bcd7eb"/>
<rect x="32" y="23" width="1.03" height="1.03" fill="#c1d9ed"/>
<rect x="33" y="23" width="1.03" height="1.03" fill="#c6dbef"/>
<rect x="34" y="23" width="1.03" height="1.03" fill="#c9ddf0"/>
<rect x="35" y="23" width="1.03" height="1.03" fill="#cbdef1"/>
<rect x="36" y="23" width="1.03" height="1.03" fill="#cde0f1"/>
<rect x="37" y="23" width="1.03" height="1.03" fill="#d0e1f2"/>
<rect x="38" y="23" width="1.03" height="1.03" fill="#d2e3f3"/>
<rect x="39" y="23" width="1.03" height="1.03" fill="#d3e4f3"/>
<rect x="0" y="24" width="1.03" height="1.03" fill="#d4e4f4"/>
<rect x="1" y="24" width="1.03" height="1.03" fill="#d2e3f3"/>
<rect x="2" y="24" width="1.03" height="1.03" fill="#d0e2f2"/>
<rect x="3" y="24" width="1.03" height="1.03" fill="#cee0f2"/>
<rect x="4" y="24" width="1.03" height="1.03" fill="#ccdff1"/>
<rect x="5" y="24" width="1.03" height="1.03" fill="#caddf0"/>
<rect x="6" y="24" width="1.03" height="1.03" fill="#c7dbef"/>
<rect x="7" y="24" width="1.03" height="1.03" fill="#c3daee"/>
<rect x="8" y="24" width="1.03" height="1.03" fill="#bed8ec"/>
<rect x="9" y="24" width="1.03" height="1.03" fill="#b9d6ea"/>
<rect x="10" y="24" width="1.03" height="1.03" fill="#b3d3e8"/>
<rect x="11" y="24" width="1.03" height="1.03" fill="#aed1e7"/>
<rect x="12" y="24" width="1.03" height="1.03" fill="#a8cee4"/>
<rect x="13" y="24" width="1.03" height="1.03" fill="#a3cce3"/>
<rect x="14" y="24" width="1.03" height="1.03" fill="#9cc9e1"/>
<rect x="15" y="24" width="1.03" height="1.03" fill="#95c5df"/>
<rect x="16" y="24" width="1.03" height="1.03" fill="#91c3de"/>
<rect x="17" y="24" width="1.03" height="1.03" fill="#8cc0dd"/>
<rect x="18" y="24" width="1.03" height="1.03" fill="#89bedc"/>
<rect x="19" y="24" width="1.03" height="1.03" fill="#89bedc"/>
<rect x="20" y="24" width="1.03" height="1.03" fill="#89bedc"/>
<rect x="21" y="24" width="1.03" height="1.03" fill="#89bedc"/>
<rect x="22" y="24" width="1.03" height="1.03" fill="#8cc0dd"/>
<rect x="23" y="24" width="1.03" height="1.03" fill="#91c3de"/>
<rect x="24" y="24" width="1.03" height="1.03" fill="#95c5df"/>
<rect x="25" y="24" width="1.03" height="1.03" fill="#9cc9e1"/>
<rect x="26" y="24" width="1.03" height="1.03" fill="#a3cce3"/>
<rect x="27" y="24" width="1.03" height="1.03" fill="#a8cee4"/>
<rect x="28" y="24" width="1.03" height="1.03" fill="#aed1e7"/>
<rect x="29" y="24" width="1.03" height="1.03" fill="#b3d3e8"/>
<rect x="30" y="24" width="1.03" height="1.03" fill="#b9d6ea"/>
<rect x="31" y="24" width="1.03" height="1.03" fill="#bed8ec"/>
<rect x="32" y="24" width="1.03" height="1.03" fill="#c3daee"/>
<rect x="33" y="24" width="1.03" height="1.03" fill="#c7dbef"/>
<rect x="34" y="24" width="1.03" height="1.03" fill="#caddf0"/>
<rect x="35" y="24" width="1.03" height="1.03" fill="#ccdff1"/>
<rect x="36" y="24" width="1.03" height="1.03" fill="#cee0f2"/>
<rect x="37" y="24" width="1.03" height="1.03" fill="#d0e2f2"/>
<rect x="38" y="24" width="1.03" height="1.03" fill="#d2e3f3"/>
<rect x="39" y="24" width="1.03" height="1.03" fill="#d4e4f4"/>
<rect x="0" y="25" width="1.03" height="1.03" fill="#d4e4f4"/>
<rect x="1" y="25" width="1.03" height="1.03" fill="#d3e3f3"/>
<rect x="2" y="25" width="1.03" height="1.03" fill="#d1e2f3"/>
<rect x="3" y="25" width="1.03" height="1.03" fill="#cfe1f2"/>
<rect x="4" y="25" width="1.03" height="1.03" fill="#cddff1"/>
<rect x="5" y="25" width="1.03" height="1.03" fill="#cadef0"/>
<rect x="6" y="25" width="1.03" height="1.03" fill="#c8dcf0"/>
<rect x="7" y="25" width="1.03" height="1.03" fill="#c4daee"/>
<rect x="8" y="25" width="1.03" height="1.03" fill="#bfd8ed"/>
<rect x="9" y="25" width="1.03" height="1.03" fill="#bcd7eb"/>
<rect x="10" y="25" width="1.03" height="1.03" fill="#b5d4e9"/>
<rect x="11" y="25" width="1.03" height="1.03" fill="#b0d2e7"/>
<rect x="12" y="25" width="1.03" height="1.03" fill="#abd0e6"/>
<rect x="13" y="25" width="1.03" height="1.03" fill="#a6cee4"/>
<rect x="14" y="25" width="1.03" height="1.03" fill="#a1cbe2"/>
<rect x="15" y="25" width="1.03" height="1.03" fill="#9cc9e1"/>
<rect x="16" y="25" width="1.03" height="1.03" fill="#97c6df"/>
<rect x="17" y="25" width="1.03" height="1.03" fill="#94c4df"/>
<rect x="18" y="25" width="1.03" height="1.03" fill="#91c3de"/>
<rect x="19" y="25" width="1.03" height="1.03" fill="#8fc2de"/>
<rect x="20" y="25" width="1.03" height="1.03" fill="#8fc2de"/>
<rect x="21" y="25" width="1.03" height="1.03" fill="#91c3de"/>
<rect x="22" y="25" width="1.03" height="1.03" fill="#94c4df"/>
<rect x="23" y="25" width="1.03" height="1.03" fill="#97c6df"/>
<rect x="24" y="25" width="1.03" height="1.03" fill="#9cc9e1"/>
<rect x="25" y="25" width="1.03" height="1.03" fill="#a1cbe2"/>
<rect x="26" y="25" width="1.03" height="1.03" fill="#a6cee4"/>
<rect x="27" y="25" width="1.03" height="1.03" fill="#abd0e6"/>
<rect x="28" y="25" width="1.03" height="1.03" fill="#b0d2e7"/>
<rect x="29" y="25" width="1.03" height="1.03" fill="#b5d4e9"/>
<rect x="30" y="25" width="1.03" height="1.03" fill="#bcd7eb"/>
<rect x="31" y="25" width="1.03" height="1.03" fill="#bfd8ed"/>
<rect x="32" y="25" width="1.03" height="1.03" fill="#c4daee"/>
<rect x="33" y="25" width="1.03" height="1.03" fill="#c8dcf0"/>
<rect x="34" y="25" width="1.03" height="1.03" fill="#cadef0"/>
<rect x="35" y="25" width="1.03" height="1.03" fill="#cddff1"/>
<rect x="36" y="25" width="1.03" height="1.03" fill="#cfe1f2"/>
<rect x="37" y="25" width="1.03" height="1.03" fill="#d1e2f3"/>
<rect x="38" y="25" width="1.03" height="1.03" fill="#d3e3f3"/>
<rect x="39" y="25" width="1.03" height="1.03" fill="#d4e4f4"/>
<rect x="0" y="26" width="1.03" height="1.03" fill="#d5e5f4"/>
<rect x="1" y="26" width="1.03" height="1.03" fill="#d3e4f3"/>
<rect x="2" y="26" width="1.03" height="1.03" fill="#d1e2f3"/>
<rect x="3" y="26" width="1.03" height="1.03" fill="#d0e1f2"/>
<rect x="4" y="26" width="1.03" height="1.03" fill="#cde0f1"/>
<rect x="5" y="26" width="1.03" height="1.03" fill="#cbdef1"/>
<rect x="6" y="26" width="1.03" height="1.03" fill="#c9ddf0"/>
<rect x="7" y="26" width="1.03" height="1.03" fill="#c7dbef"/>
<rect x="8" y="26" width="1.03" height="1.03" fill="#c2d9ee"/>
<rect x="9" y="26" width="1.03" height="1.03" fill="#bed8ec"/>
<rect x="10" y="26" width="1.03" height="1.03" fill="#b9d6ea"/>
<rect x="11" y="26" width="1.03" height="1.03" fill="#b4d3e9"/>
<rect x="12" y="26" width="1.03" height="1.03" fill="#afd1e7"/>
<rect x="13" y="26" width="1.03" height="1.03" fill="#aacfe5"/>
<rect x="14" y="26" width="1.03" height="1.03" fill="#a6cee4"/>
<rect x="15" y="26" width="1.03" height="1.03" fill="#a3cce3"/>
<rect x="16" y="26" width="1.03" height="1.03" fill="#9fcae1"/>
<rect x="17" y="26" width="1.03" height="1.03" fill="#9cc9e1"/>
<rect x="18" y="26" width="1.03" height="1.03" fill="#99c7e0"/>
<rect x="19" y="26" width="1.03" height="1.03" fill="#97c6df"/>
<rect x="20" y="26" width="1.03" height="1.03" fill="#97c6df"/>
<rect x="21" y="26" width="1.03" height="1.03" fill="#99c7e0"/>
<rect x="22" y="26" width="1.03" height="1.03" fill="#9cc9e1"/>
<rect x="23" y="26" width="1.03" height="1.03" fill="#9fcae1"/>
<rect x="24" y="26" width="1.03" height="1.03" fill="#a3cce3"/>
<rect x="25" y="26" width="1.03" height="1.03" fill="#a6cee4"/>
<rect x="26" y="26" width="1.03" height="1.03" fill="#aacfe5"/>
<rect x="27" y="26" width="1.03" height="1.03" fill="#afd1e7"/>
<rect x="28" y="26" width="1.03" height="1.03" fill="#b4d3e9"/>
<rect x="29" y="26" width="1.03" height="1.03" fill="#b9d6ea"/>
<rect x="30" y="26" width="1.03" height="1.03" fill="#bed8ec"/>
<rect x="31" y="26" width="1.03" height="1.03" fill="#c2d9ee"/>
<rect x="32" y="26" width="1.03" height="1.03" fill="#c7dbef"/>
<rect x="33" y="26" width="1.03" height="1.03" fill="#c9ddf0"/>
<rect x="34" y="26" width="1.03" height="1.03" fill="#cbdef1"/>
<rect x="35" y="26" width="1.03" height="1.03" fill="#cde0f1"/>
<rect x="36" y="26" width="1.03" height="1.03" fill="#d0e1f2"/>
<rect x="37" y="26" width="1.03" height="1.03" fill="#d1e2f3"/>
<rect x="38" y="26" width="1.03" height="1.03" fill="#d3e4f3"/>
<rect x="39" y="26" width="1.03" height="1.03" fill="#d5e5f4"/>
<rect x="0" y="27" width="1.03" height="1.03" fill="#d6e5f4"/>
<rect x="1" y="27" width="1.03" height="1.03" fill="#d4e4f4"/>
<rect x="2" y="27" width="1.03" height="1.03" fill="#d2e3f3"/>
<rect x="3" y="27" width="1.03" height="1.03" fill="#d0e2f2"/>
<rect x="4" y="27" width="1.03" height="1.03" fill="#cee0f2"/>
<rect x="5" y="27" width="1.03" height="1.03" fill="#cddff1"/>
<rect x="6" y="27" width="1.03" height="1.03" fill="#cadef0"/>
<rect x="7" y="27" width="1.03" height="1.03" fill="#c8dcf0"/>
<rect x="8" y="27" width="1.03" height="1.03" fill="#c4daee"/>
<rect x="9" y="27" width="1.03" height="1.03" fill="#c1d9ed"/>
<rect x="10" y="27" width="1.03" height="1.03" fill="#bdd7ec"/>
<rect x="11" y="27" width="1.03" height="1.03" fill="#b8d5ea"/>
<rect x="12" y="27" width="1.03" height="1.03" fill="#b4d3e9"/>
<rect x="13" y="27" width="1.03" height="1.03" fill="#afd1e7"/>
<rect x="14" y="27" width="1.03" height="1.03" fill="#abd0e6"/>
<rect x="15" y="27" width="1.03" height="1.03" fill="#a8cee4"/>
<rect x="16" y="27" width="1.03" height="1.03" fill="#a5cde3"/>
<rect x="17" y="27" width="1.03" height="1.03" fill="#a3cce3"/>
<rect x="18" y="27" width="1.03" height="1.03" fill="#a0cbe2"/>
<rect x="19" y="27" width="1.03" height="1.03" fill="#a0cbe2"/>
<rect x="20" y="27" width="1.03" height="1.03" fill="#a0cbe2"/>
<rect x="21" y="27" width="1.03" height="1.03" fill="#a0cbe2"/>
<rect x="22" y="27" width="1.03" height="1.03" fill="#a3cce3"/>
<rect x="23" y="27" width="1.03" height="1.03" fill="#a5cde3"/>
<rect x="24" y="27" width="1.03" height="1.03" fill="#a8cee4"/>
<rect x="25" y="27" width="1.03" height="1.03" fill="#abd0e6"/>
<rect x="26" y="27" width="1.03" height="1.03" fill="#afd1e7"/>
<rect x="27" y="27" width="1.03" height="1.03" fill="#b4d3e9"/>
<rect x="28" y="27" width="1.03" height="1.03" fill="#b8d5ea"/>
<rect x="29" y="27" width="1.03" height="1.03" fill="#bdd7ec"/>
<rect x="30" y="27" width="1.03" height="1.03" fill="#c1d9ed"/>
<rect x="31" y="27" width="1.03" height="1.03" fill="#c4daee"/>
<rect x="32" y="27" width="1.03" height="1.03" fill="#c8dcf0"/>
<rect x="33" y="27" width="1.03" height="1.03" fill="#cadef0"/>
<rect x="34" y="27" width="1.03" height="1.03" fill="#cddff1"/>
<rect x="35" y="27" width="1.03" height="1.03" fill="#cee0f2"/>
<rect x="36" y="27" width="1.03" height="1.03" fill="#d0e2f2"/>
<rect x="37" y="27" width="1.03" height="1.03" fill="#d2e3f3"/>
<rect x="38" y="27" width="1.03" height="1.03" fill="#d4e4f4"/>
<rect x="39" y="27" width="1.03" height="1.03" fill="#d6e5f4"/>
<rect x="0" y="28" width="1.03" height="1.03" fill="#d6e5f4"/>
<rect x="1" y="28" width="1.03" height="1.03" fill="#d5e5f4"/>
<rect x="2" y="28" width="1.03" height="1.03" fill="#d3e3f3"/>
<rect x="3" y="28" width="1.03" height="1.03" fill="#d1e2f3"/>
<rect x="4" y="28" width="1.03" height="1.03" fill="#d0e1f2"/>
<rect x="5" y="28" width="1.03" height="1.03" fill="#cde0f1"/>
<rect x="6" y="28" width="1.03" height="1.03" fill="#cbdef1"/>
<rect x="7" y="28" width="1.03" height="1.03" fill="#caddf0"/>
<rect x="8" y="28" width="1.03" height="1.03" fill="#c7dcef"/>
<rect x="9" y="28" width="1.03" height="1.03" fill="#c4daee"/>
<rect x="10" y="28" width="1.03" height="1.03" fill="#bfd8ed"/>
<rect x="11" y="28" width="1.03" height="1.03" fill="#bcd7eb"/>
<rect x="12" y="28" width="1.03" height="1.03" fill="#b8d5ea"/>
<rect x="13" y="28" width="1.03" height="1.03" fill="#b4d3e9"/>
<rect x="14" y="28" width="1.03" height="1.03" fill="#b0d2e7"/>
<rect x="15" y="28" width="1.03" height="1.03" fill="#aed1e7"/>
<rect x="16" y="28" width="1.03" height="1.03" fill="#aacfe5"/>
<rect x="17" y="28" width="1.03" height="1.03" fill="#a9cfe5"/>
<rect x="18" y="28" width="1.03" height="1.03" fill="#a8cee4"/>
<rect x="19" y="28" width="1.03" height="1.03" fill="#a6cee4"/>
<rect x="20" y="28" width="1.03" height="1.03" fill="#a6cee4"/>
<rect x="21" y="28" width="1.03" height="1.03" fill="#a8cee4"/>
<rect x="22" y="28" width="1.03" height="1.03" fill="#a9cfe5"/>
<rect x="23" y="28" width="1.03" height="1.03" fill="#aacfe5"/>
<rect x="24" y="28" width="1.03" height="1.03" fill="#aed1e7"/>
<rect x="25" y="28" width="1.03" height="1.03" fill="#b0d2e7"/>
<rect x="26" y="28" width="1.03" height="1.03" fill="#b4d3e9"/>
<rect x="27" y="28" width="1.03" height="1.03" fill="#b8d5ea"/>
<rect x="28" y="28" width="1.03" height="1.03" fill="#bcd7eb"/>
<rect x="29" y="28" width="1.03" height="1.03" fill="#bfd8ed"/>
<rect x="30" y="28" width="1.03" height="1.03" fill="#c4daee"/>
<rect x="31" y="28" width="1.03" height="1.03" fill="#c7dcef"/>
<rect x="32" y="28" width="1.03" height="1.03" fill="#caddf0"/>
<rect x="33" y="28" width="1.03" height="1.03" fill="#cbdef1"/>
<rect x="34" y="28" width="1.03" height="1.03" fill="#cde0f1"/>
<rect x="35" y="28" width="1.03" height="1.03" fill="#d0e1f2"/>
<rect x="36" y="28" width="1.03" height="1.03" fill="#d1e2f3"/>
<rect x="37" y="28" width="1.03" height="1.03" fill="#d3e3f3"/>
<rect x="38" y="28" width="1.03" height="1.03" fill="#d5e5f4"/>
<rect x="39" y="28" width="1.03" height="1.03" fill="#d6e5f4"/>
<rect x="0" y="29" width="1.03" height="1.03" fill="#d6e6f4"/>
<rect x="1" y="29" width="1.03" height="1.03" fill="#d5e5f4"/>
<rect x="2" y="29" width="1.03" height="1.03" fill="#d3e4f3"/>
<rect x="3" y="29" width="1.03" height="1.03" fill="#d2e3f3"/>
<rect x="4" y="29" width="1.03" height="1.03" fill="#d0e2f2"/>
<rect x="5" y="29" width="1.03" height="1.03" fill="#cfe1f2"/>
<rect x="6" y="29" width="1.03" height="1.03" fill="#cddff1"/>
<rect x="7" y="29" width="1.03" height="1.03" fill="#cbdef1"/>
<rect x="8" y="29" width="1.03" height="1.03" fill="#c9ddf0"/>
<rect x="9" y="29" width="1.03" height="1.03" fill="#c7dbef"/>
<rect x="10" y="29" width="1.03" height="1.03" fill="#c3daee"/>
<rect x="11" y="29" width="1.03" height="1.03" fill="#bfd8ed"/>
<rect x="12" y="29" width="1.03" height="1.03" fill="#bdd7ec"/>
<rect x="13" y="29" width="1.03" height="1.03" fill="#b9d6ea"/>
<rect x="14" y="29" width="1.03" height="1.03" fill="#b5d4e9"/>
<rect x="15" y="29" width="1.03" height="1.03" fill="#b3d3e8"/>
<rect x="16" y="29" width="1.03" height="1.03" fill="#b0d2e7"/>
<rect x="17" y="29" width="1.03" height="1.03" fill="#afd1e7"/>
<rect x="18" y="29" width="1.03" height="1.03" fill="#aed1e7"/>
<rect x="19" y="29" width="1.03" height="1.03" fill="#add0e6"/>
<rect x="20" y="29" width="1.03" height="1.03" fill="#add0e6"/>
<rect x="21" y="29" width="1.03" height="1.03" fill="#aed1e7"/>
<rect x="22" y="29" width="1.03" height="1.03" fill="#afd1e7"/>
<rect x="23" y="29" width="1.03" height="1.03" fill="#b0d2e7"/>
<rect x="24" y="29" width="1.03" height="1.03" fill="#b3d3e8"/>
<rect x="25" y="29" width="1.03" height="1.03" fill="#b5d4e9"/>
<rect x="26" y="29" width="1.03" height="1.03" fill="#b9d6ea"/>
<rect x="27" y="29" width="1.03" height="1.03" fill="#bdd7ec"/>
<rect x="28" y="29" width="1.03" height="1.03" fill="#bfd8ed"/>
<rect x="29" y="29" width="1.03" height="1.03" fill="#c3daee"/>
<rect x="30" y="29" width="1.03" height="1.03" fill="#c7dbef"/>
<rect x="31" y="29" width="1.03" height="1.03" fill="#c9ddf0"/>
<rect x="32" y="29" width="1.03" height="1.03" fill="#cbdef1"/>
<rect x="33" y="29" width="1.03" height="1.03" fill="#cddff1"/>
<rect x="34" y="29" width="1.03" height="1.03" fill="#cfe1f2"/>
<rect x="35" y="29" width="1.03" height="1.03" fill="#d0e2f2"/>
<rect x="36" y="29" width="1.03" height="1.03" fill="#d2e3f3"/>
<rect x="37" y="29" width="1.03" height="1.03" fill="#d3e4f3"/>
<rect x="38" y="29" width="1.03" height="1.03" fill="#d5e5f4"/>
<rect x="39" y="29" width="1.03" height="1.03" fill="#d6e6f4"/>
<rect x="0" y="30" width="1.03" height="1.03" fill="#d7e6f5"/>
<rect x="1" y="30" width="1.03" height="1.03" fill="#d6e5f4"/>
<rect x="2" y="30" width="1.03" height="1.03" fill="#d5e5f4"/>
<rect x="3" y="30" width="1.03" height="1.03" fill="#d3e4f3"/>
<rect x="4" y="30" width="1.03" height="1.03" fill="#d2e3f3"/>
<rect x="5" y="30" width="1.03" height="1.03" fill="#d0e1f2"/>
<rect x="6" y="30" width="1.03" height="1.03" fill="#cee0f2"/>
<rect x="7" y="30" width="1.03" height="1.03" fill="#cddff1"/>
<rect x="8" y="30" width="1.03" height="1.03" fill="#cadef0"/>
<rect x="9" y="30" width="1.03" height="1.03" fill="#c9ddf0"/>
<rect x="10" y="30" width="1.03" height="1.03" fill="#c7dbef"/>
<rect x="11" y="30" width="1.03" height="1.03" fill="#c4daee"/>
<rect x="12" y="30" width="1.03" height="1.03" fill="#c1d9ed"/>
<rect x="13" y="30" width="1.03" height="1.03" fill="#bed8ec"/>
<rect x="14" y="30" width="1.03" height="1.03" fill="#bcd7eb"/>
<rect x="15" y="30" width="1.03" height="1.03" fill="#b9d6ea"/>
<rect x="16" y="30" width="1.03" height="1.03" fill="#b7d4ea"/>
<rect x="17" y="30" width="1.03" height="1.03" fill="#b5d4e9"/>
<rect x="18" y="30" width="1.03" height="1.03" fill="#b4d3e9"/>
<rect x="19" y="30" width="1.03" height="1.03" fill="#b3d3e8"/>
<rect x="20" y="30" width="1.03" height="1.03" fill="#b3d3e8"/>
<rect x="21" y="30" width="1.03" height="1.03" fill="#b4d3e9"/>
<rect x="22" y="30" width="1.03" height="1.03" fill="#b5d4e9"/>
<rect x="23" y="30" width="1.03" height="1.03" fill="#b7d4ea"/>
<rect x="24" y="30" width="1.03" height="1.03" fill="#b9d6ea"/>
<rect x="25" y="30" width="1.03" height="1.03" fill="#bcd7eb"/>
<rect x="26" y="30" width="1.03" height="1.03" fill="#bed8ec"/>
<rect x="27" y="30" width="1.03" height="1.03" fill="#c1d9ed"/>
<rect x="28" y="30" width="1.03" height="1.03" fill="#c4daee"/>
<rect x="29" y="30" width="1.03" height="1.03" fill="#c7dbef"/>
<rect x="30" y="30" width="1.03" height="1.03" fill="#c9ddf0"/>
<rect x="31" y="30" width="1.03" height="1.03" fill="#cadef0"/>
<rect x="32" y="30" width="1.03" height="1.03" fill="#cddff1"/>
<rect x="33" y="30" width="1.03" height="1.03" fill="#cee0f2"/>
<rect x="34" y="30" width="1.03" height="1.03" fill="#d0e1f2"/>
<rect x="35" y="30" width="1.03" height="1.03" fill="#d2e3f3"/>
<rect x="36" y="30" width="1.03" height="1.03" fill="#d3e4f3"/>
<rect x="37" y="30" width="1.03" height="1.03" fill="#d5e5f4"/>
<rect x="38" y="30" width="1.03" height="1.03" fill="#d6e5f4"/>
<rect x="39" y="30" width="1.03" height="1.03" fill="#d7e6f5"/>
<rect x="0" y="31" width="1.03" height="1.03" fill="#d8e7f5"/>
<rect x="1" y="31" width="1.03" height="1.03" fill="#d7e6f5"/>
<rect x="2" y="31" width="1.03" height="1.03" fill="#d6e5f4"/>
<rect x="3" y="31" width="1.03" height="1.03" fill="#d4e4f4"/>
<rect x="4" y="31" width="1.03" height="1.03" fill="#d3e3f3"/>
<rect x="5" y="31" width="1.03" height="1.03" fill="#d1e2f3"/>
<rect x="6" y="31" width="1.03" height="1.03" fill="#d0e1f2"/>
<rect x="7" y="31" width="1.03" height="1.03" fill="#cee0f2"/>
<rect x="8" y="31" width="1.03" height="1.03" fill="#ccdff1"/>
<rect x="9" y="31" width="1.03" height="1.03" fill="#cadef0"/>
<rect x="10" y="31" width="1.03" height="1.03" fill="#c9ddf0"/>
<rect x="11" y="31" width="1.03" height="1.03" fill="#c7dcef"/>
<rect x="12" y="31" width="1.03" height="1.03" fill="#c4daee"/>
<rect x="13" y="31" width="1.03" height="1.03" fill="#c2d9ee"/>
<rect x="14" y="31" width="1.03" height="1.03" fill="#bfd8ed"/>
<rect x="15" y="31" width="1.03" height="1.03" fill="#bed8ec"/>
<rect x="16" y="31" width="1.03" height="1.03" fill="#bcd7eb"/>
<rect x="17" y="31" width="1.03" height="1.03" fill="#bad6eb"/>
<rect x="18" y="31" width="1.03" height="1.03" fill="#b9d6ea"/>
<rect x="19" y="31" width="1.03" height="1.03" fill="#b9d6ea"/>
<rect x="20" y="31" width="1.03" height="1.03" fill="#b9d6ea"/>
<rect x="21" y="31" width="1.03" height="1.03" fill="#b9d6ea"/>
<rect x="22" y="31" width="1.03" height="1.03" fill="#bad6eb"/>
<rect x="23" y="31" width="1.03" height="1.03" fill="#bcd7eb"/>
<rect x="24" y="31" width="1.03" height="1.03" fill="#bed8ec"/>
<rect x="25" y="31" width="1.03" height="1.03" fill="#bfd8ed"/>
<rect x="26" y="31" width="1.03" height="1.03" fill="#c2d9ee"/>
<rect x="27" y="31" width="1.03" height="1.03" fill="#c4daee"/>
<rect x="28" y="31" width="1.03" height="1.03" fill="#c7dcef"/>
<rect x="29" y="31" width="1.03" height="1.03" fill="#c9ddf0"/>
<rect x="30" y="31" width="1.03" height="1.03" fill="#cadef0"/>
<rect x="31" y="31" width="1.03" height="1.03" fill="#ccdff1"/>
<rect x="32" y="31" width="1.03" height="1.03" fill="#cee0f2"/>
<rect x="33" y="31" width="1.03" height="1.03" fill="#d0e1f2"/>
<rect x="34" y="31" width="1.03" height="1.03" fill="#d1e2f3"/>
<rect x="35" y="31" width="1.03" height="1.03" fill="#d3e3f3"/>
<rect x="36" y="31" width="1.03" height="1.03" fill="#d4e4f4"/>
<rect x="37" y="31" width="1.03" height="1.03" fill="#d6e5f4"/>
<rect x="38" y="31" width="1.03" height="1.03" fill="#d7e6f5"/>
<rect x="39" y="31" width="1.03" height="1.03" fill="#d8e7f5"/>
<rect x="0" y="32" width="1.03" height="1.03" fill="#d9e7f5"/>
<rect x="1" y="32" width="1.03" height="1.03" fill="#d8e7f5"/>
<rect x="2" y="32" width="1.03" height="1.03" fill="#d6e6f4"/>
<rect x="3" y="32" width="1.03" height="1.03" fill="#d5e5f4"/>
<rect x="4" y="32" width="1.03" height="1.03" fill="#d3e4f3"/>
<rect x="5" y="32" width="1.03" height="1.03" fill="#d3e3f3"/>
<rect x="6" y="32" width="1.03" height="1.03" fill="#d1e2f3"/>
<rect x="7" y="32" width="1.03" height="1.03" fill="#d0e1f2"/>
<rect x="8" y="32" width="1.03" height="1.03" fill="#cee0f2"/>
<rect x="9" y="32" width="1.03" height="1.03" fill="#cddff1"/>
<rect x="10" y="32" width="1.03" height="1.03" fill="#cbdef1"/>
<rect x="11" y="32" width="1.03" height="1.03" fill="#caddf0"/>
<rect x="12" y="32" width="1.03" height="1.03" fill="#c8dcf0"/>
<rect x="13" y="32" width="1.03" height="1.03" fill="#c7dbef"/>
<rect x="14" y="32" width="1.03" height="1.03" fill="#c4daee"/>
<rect x="15" y="32" width="1.03" height="1.03" fill="#c3daee"/>
<rect x="16" y="32" width="1.03" height="1.03" fill="#c1d9ed"/>
<rect x="17" y="32" width="1.03" height="1.03" fill="#c1d9ed"/>
<rect x="18" y="32" width="1.03" height="1.03" fill="#bfd8ed"/>
<rect x="19" y="32" width="1.03" height="1.03" fill="#bfd8ed"/>
<rect x="20" y="32" width="1.03" height="1.03" fill="#bfd8ed"/>
<rect x="21" y="32" width="1.03" height="1.03" fill="#bfd8ed"/>
<rect x="22" y="32" width="1.03" height="1.03" fill="#c1d9ed"/>
<rect x="23" y="32" width="1.03" height="1.03" fill="#c1d9ed"/>
<rect x="24" y="32" width="1.03" height="1.03" fill="#c3daee"/>
<rect x="25" y="32" width="1.03" height="1.03" fill="#c4daee"/>
<rect x="26" y="32" width="1.03" height="1.03" fill="#c7dbef"/>
<rect x="27" y="32" width="1.03" height="1.03" fill="#c8dcf0"/>
<rect x="28" y="32" width="1.03" height="1.03" fill="#caddf0"/>
<rect x="29" y="32" width="1.03" height="1.03" fill="#cbdef1"/>
<rect x="30" y="32" width="1.03" height="1.03" fill="#cddff1"/>
<rect x="31" y="32" width="1.03" height="1.03" fill="#cee0f2"/>
<rect x="32" y="32" width="1.03" height="1.03" fill="#d0e1f2"/>
<rect x="33" y="32" width="1.03" height="1.03" fill="#d1e2f3"/>
<rect x="34" y="32" width="1.03" height="1.03" fill="#d3e3f3"/>
<rect x="35" y="32" width="1.03" height="1.03" fill="#d3e4f3"/>
<rect x="36" y="32" width="1.03" height="1.03" fill="#d5e5f4"/>
<rect x="37" y="32" width="1.03" height="1.03" fill="#d6e6f4"/>
<rect x="38" y="32" width="1.03" height="1.03" fill="#d8e7f5"/>
<rect x="39" y="32" width="1.03" height="1.03" fill="#d9e7f5"/>
<rect x="0" y="33" width="1.03" height="1.03" fill="#d9e8f5"/>
<rect x="1" y="33" width="1.03" height="1.03" fill="#d9e7f5"/>
<rect x="2" y="33" width="1.03" height="1.03" fill="#d7e6f5"/>
<rect x="3" y="33" width="1.03" height="1.03" fill="#d6e6f4"/>
<rect x="4" y="33" width="1.03" height="1.03" fill="#d5e5f4"/>
<rect x="5" y="33" width="1.03" height="1.03" fill="#d3e4f3"/>
<rect x="6" y="33" width="1.03" height="1.03" fill="#d2e3f3"/>
<rect x="7" y="33" width="1.03" height="1.03" fill="#d1e2f3"/>
<rect x="8" y="33" width="1.03" height="1.03" fill="#d0e1f2"/>
<rect x="9" y="33" width="1.03" height="1.03" fill="#cee0f2"/>
<rect x="10" y="33" width="1.03" height="1.03" fill="#cddff1"/>
<rect x="11" y="33" width="1.03" height="1.03" fill="#cbdef1"/>
<rect x="12" y="33" width="1.03" height="1.03" fill="#cadef0"/>
<rect x="13" y="33" width="1.03" height="1.03" fill="#c9ddf0"/>
<rect x="14" y="33" width="1.03" height="1.03" fill="#c8dcf0"/>
<rect x="15" y="33" width="1.03" height="1.03" fill="#c7dbef"/>
<rect x="16" y="33" width="1.03" height="1.03" fill="#c6dbef"/>
<rect x="17" y="33" width="1.03" height="1.03" fill="#c6dbef"/>
<rect x="18" y="33" width="1.03" height="1.03" fill="#c4daee"/>
<rect x="19" y="33" width="1.03" height="1.03" fill="#c4daee"/>
<rect x="20" y="33" width="1.03" height="1.03" fill="#c4daee"/>
<rect x="21" y="33" width="1.03" height="1.03" fill="#c4daee"/>
<rect x="22" y="33" width="1.03" height="1.03" fill="#c6dbef"/>
<rect x="23" y="33" width="1.03" height="1.03" fill="#c6dbef"/>
<rect x="24" y="33" width="1.03" height="1.03" fill="#c7dbef"/>
<rect x="25" y="33" width="1.03" height="1.03" fill="#c8dcf0"/>
<rect x="26" y="33" width="1.03" height="1.03" fill="#c9ddf0"/>
<rect x="27" y="33" width="1.03" height="1.03" fill="#cadef0"/>
<rect x="28" y="33" width="1.03" height="1.03" fill="#cbdef1"/>
<rect x="29" y="33" width="1.03" height="1.03" fill="#cddff1"/>
<rect x="30" y="33" width="1.03" height="1.03" fill="#cee0f2"/>
<rect x="31" y="33" width="1.03" height="1.03" fill="#d0e1f2"/>
<rect x="32" y="33" width="1.03" height="1.03" fill="#d1e2f3"/>
<rect x="33" y="33" width="1.03" height="1.03" fill="#d2e3f3"/>
<rect x="34" y="33" width="1.03" height="1.03" fill="#d3e4f3"/>
<rect x="35" y="33" width="1.03" height="1.03" fill="#d5e5f4"/>
<rect x="36" y="33" width="1.03" height="1.03" fill="#d6e6f4"/>
<rect x="37" y="33" width="1.03" height="1.03" fill="#d7e6f5"/>
<rect x="38" y="33" width="1.03" height="1.03" fill="#d9e7f5"/>
<rect x="39" y="33" width="1.03" height="1.03" fill="#d9e8f5"/>
<rect x="0" y="34" width="1.03" height="1.03" fill="#dae8f6"/>
<rect x="1" y="34" width="1.03" height="1.03" fill="#d9e8f5"/>
<rect x="2" y="34" width="1.03" height="1.03" fill="#d8e7f5"/>
<rect x="3" y="34" width="1.03" height="1.03" fill="#d7e6f5"/>
<rect x="4" y="34" width="1.03" height="1.03" fill="#d6e5f4"/>
<rect x="5" y="34" width="1.03" height="1.03" fill="#d5e5f4"/>
<rect x="6" y="34" width="1.03" height="1.03" fill="#d3e4f3"/>
<rect x="7" y="34" width="1.03" height="1.03" fill="#d3e3f3"/>
<rect x="8" y="34" width="1.03" height="1.03" fill="#d1e2f3"/>
<rect x="9" y="34" width="1.03" height="1.03" fill="#d0e1f2"/>
<rect x="10" y="34" width="1.03" height="1.03" fill="#cfe1f2"/>
<rect x="11" y="34" width="1.03" height="1.03" fill="#cde0f1"/>
<rect x="12" y="34" width="1.03" height="1.03" fill="#cddff1"/>
<rect x="13" y="34" width="1.03" height="1.03" fill="#cbdef1"/>
<rect x="14" y="34" width="1.03" height="1.03" fill="#cadef0"/>
<rect x="15" y="34" width="1.03" height="1.03" fill="#caddf0"/>
<rect x="16" y="34" width="1.03" height="1.03" fill="#c9ddf0"/>
<rect x="17" y="34" width="1.03" height="1.03" fill="#c8dcf0"/>
<rect x="18" y="34" width="1.03" height="1.03" fill="#c8dcf0"/>
<rect x="19" y="34" width="1.03" height="1.03" fill="#c7dcef"/>
<rect x="20" y="34" width="1.03" height="1.03" fill="#c7dcef"/>
<rect x="21" y="34" width="1.03" height="1.03" fill="#c8dcf0"/>
<rect x="22" y="34" width="1.03" height="1.03" fill="#c8dcf0"/>
<rect x="23" y="34" width="1.03" height="1.03" fill="#c9ddf0"/>
<rect x="24" y="34" width="1.03" height="1.03" fill="#caddf0"/>
<rect x="25" y="34" width="1.03" height="1.03" fill="#cadef0"/>
<rect x="26" y="34" width="1.03" height="1.03" fill="#cbdef1"/>
<rect x="27" y="34" width="1.03" height="1.03" fill="#cddff1"/>
<rect x="28" y="34" width="1.03" height="1.03" fill="#cde0f1"/>
<rect x="29" y="34" width="1.03" height="1.03" fill="#cfe1f2"/>
<rect x="30" y="34" width="1.03" height="1.03" fill="#d0e1f2"/>
<rect x="31" y="34" width="1.03" height="1.03" fill="#d1e2f3"/>
<rect x="32" y="34" width="1.03" height="1.03" fill="#d3e3f3"/>
<rect x="33" y="34" width="1.03" height="1.03" fill="#d3e4f3"/>
<rect x="34" y="34" width="1.03" height="1.03" fill="#d5e5f4"/>
<rect x="35" y="34" width="1.03" height="1.03" fill="#d6e5f4"/>
<rect x="36" y="34" width="1.03" height="1.03" fill="#d7e6f5"/>
<rect x="37" y="34" width="1.03" height="1.03" fill="#d8e7f5"/>
<rect x="38" y="34" width="1.03" height="1.03" fill="#d9e8f5"/>
<rect x="39" y="34" width="1.03" height="1.03" fill="#dae8f6"/>
<rect x="0" y="35" width="1.03" height="1.03" fill="#dbe9f6"/>
<rect x="1" y="35" width="1.03" height="1.03" fill="#dae8f6"/>
<rect x="2" y="35" width="1.03" height="1.03" fill="#d9e8f5"/>
<rect x="3" y="35" width="1.03" height="1.03" fill="#d8e7f5"/>
<rect x="4" y="35" width="1.03" height="1.03" fill="#d7e6f5"/>
<rect x="5" y="35" width="1.03" height="1.03" fill="#d6e5f4"/>
<rect x="6" y="35" width="1.03" height="1.03" fill="#d5e5f4"/>
<rect x="7" y="35" width="1.03" height="1.03" fill="#d3e4f3"/>
<rect x="8" y="35" width="1.03" height="1.03" fill="#d3e3f3"/>
<rect x="9" y="35" width="1.03" height="1.03" fill="#d2e3f3"/>
<rect x="10" y="35" width="1.03" height="1.03" fill="#d0e2f2"/>
<rect x="11" y="35" width="1.03" height="1.03" fill="#d0e1f2"/>
<rect x="12" y="35" width="1.03" height="1.03" fill="#cee0f2"/>
<rect x="13" y="35" width="1.03" height="1.03" fill="#cde0f1"/>
<rect x="14" y="35" width="1.03" height="1.03" fill="#cddff1"/>
<rect x="15" y="35" width="1.03" height="1.03" fill="#ccdff1"/>
<rect x="16" y="35" width="1.03" height="1.03" fill="#cbdef1"/>
<rect x="17" y="35" width="1.03" height="1.03" fill="#cbdef1"/>
<rect x="18" y="35" width="1.03" height="1.03" fill="#cadef0"/>
<rect x="19" y="35" width="1.03" height="1.03" fill="#cadef0"/>
<rect x="20" y="35" width="1.03" height="1.03" fill="#cadef0"/>
<rect x="21" y="35" width="1.03" height="1.03" fill="#cadef0"/>
<rect x="22" y="35" width="1.03" height="1.03" fill="#cbdef1"/>
<rect x="23" y="35" width="1.03" height="1.03" fill="#cbdef1"/>
<rect x="24" y="35" width="1.03" height="1.03" fill="#ccdff1"/>
<rect x="25" y="35" width="1.03" height="1.03" fill="#cddff1"/>
<rect x="26" y="35" width="1.03" height="1.03" fill="#cde0f1"/>
<rect x="27" y="35" width="1.03" height="1.03" fill="#cee0f2"/>
<rect x="28" y="35" width="1.03" height="1.03" fill="#d0e1f2"/>
<rect x="29" y="35" width="1.03" height="1.03" fill="#d0e2f2"/>
<rect x="30" y="35" width="1.03" height="1.03" fill="#d2e3f3"/>
<rect x="31" y="35" width="1.03" height="1.03" fill="#d3e3f3"/>
<rect x="32" y="35" width="1.03" height="1.03" fill="#d3e4f3"/>
<rect x="33" y="35" width="1.03" height="1.03" fill="#d5e5f4"/>
<rect x="34" y="35" width="1.03" height="1.03" fill="#d6e5f4"/>
<rect x="35" y="35" width="1.03" height="1.03" fill="#d7e6f5"/>
<rect x="36" y="35" width="1.03" height="1.03" fill="#d8e7f5"/>
<rect x="37" y="35" width="1.03" height="1.03" fill="#d9e8f5"/>
<rect x="38" y="35" width="1.03" height="1.03" fill="#dae8f6"/>
<rect x="39" y="35" width="1.03" height="1.03" fill="#dbe9f6"/>
<rect x="0" y="36" width="1.03" height="1.03" fill="#dce9f6"/>
<rect x="1" y="36" width="1.03" height="1.03" fill="#dbe9f6"/>
<rect x="2" y="36" width="1.03" height="1.03" fill="#dae8f6"/>
<rect x="3" y="36" width="1.03" height="1.03" fill="#d9e7f5"/>
<rect x="4" y="36" width="1.03" height="1.03" fill="#d8e7f5"/>
<rect x="5" y="36" width="1.03" height="1.03" fill="#d7e6f5"/>
<rect x="6" y="36" width="1.03" height="1.03" fill="#d6e6f4"/>
<rect x="7" y="36" width="1.03" height="1.03" fill="#d5e5f4"/>
<rect x="8" y="36" width="1.03" height="1.03" fill="#d4e4f4"/>
<rect x="9" y="36" width="1.03" height="1.03" fill="#d3e4f3"/>
<rect x="10" y="36" width="1.03" height="1.03" fill="#d2e3f3"/>
<rect x="11" y="36" width="1.03" height="1.03" fill="#d1e2f3"/>
<rect x="12" y="36" width="1.03" height="1.03" fill="#d0e2f2"/>
<rect x="13" y="36" width="1.03" height="1.03" fill="#d0e1f2"/>
<rect x="14" y="36" width="1.03" height="1.03" fill="#cfe1f2"/>
<rect x="15" y="36" width="1.03" height="1.03" fill="#cee0f2"/>
<rect x="16" y="36" width="1.03" height="1.03" fill="#cde0f1"/>
<rect x="17" y="36" width="1.03" height="1.03" fill="#cde0f1"/>
<rect x="18" y="36" width="1.03" height="1.03" fill="#cddff1"/>
<rect x="19" y="36" width="1.03" height="1.03" fill="#cddff1"/>
<rect x="20" y="36" width="1.03" height="1.03" fill="#cddff1"/>
<rect x="21" y="36" width="1.03" height="1.03" fill="#cddff1"/>
<rect x="22" y="36" width="1.03" height="1.03" fill="#cde0f1"/>
<rect x="23" y="36" width="1.03" height="1.03" fill="#cde0f1"/>
<rect x="24" y="36" width="1.03" height="1.03" fill="#cee0f2"/>
<rect x="25" y="36" width="1.03" height="1.03" fill="#cfe1f2"/>
<rect x="26" y="36" width="1.03" height="1.03" fill="#d0e1f2"/>
<rect x="27" y="36" width="1.03" height="1.03" fill="#d0e2f2"/>
<rect x="28" y="36" width="1.03" height="1.03" fill="#d1e2f3"/>
<rect x="29" y="36" width="1.03" height="1.03" fill="#d2e3f3"/>
<rect x="30" y="36" width="1.03" height="1.03" fill="#d3e4f3"/>
<rect x="31" y="36" width="1.03" height="1.03" fill="#d4e4f4"/>
<rect x="32" y="36" width="1.03" height="1.03" fill="#d5e5f4"/>
<rect x="33" y="36" width="1.03" height="1.03" fill="#d6e6f4"/>
<rect x="34" y="36" width="1.03" height="1.03" fill="#d7e6f5"/>
<rect x="35" y="36" width="1.03" height="1.03" fill="#d8e7f5"/>
<rect x="36" y="36" width="1.03" height="1.03" fill="#d9e7f5"/>
<rect x="37" y="36" width="1.03" height="1.03" fill="#dae8f6"/>
<rect x="38" y="36" width="1.03" height="1.03" fill="#dbe9f6"/>
<rect x="39" y="36" width="1.03" height="1.03" fill="#dce9f6"/>
<rect x="0" y="37" width="1.03" height="1.03" fill="#dceaf6"/>
<rect x="1" y="37" width="1.03" height="1.03" fill="#dce9f6"/>
<rect x="2" y="37" width="1.03" height="1.03" fill="#dbe9f6"/>
<rect x="3" y="37" width="1.03" height="1.03" fill="#dae8f6"/>
<rect x="4" y="37" width="1.03" height="1.03" fill="#d9e8f5"/>
<rect x="5" y="37" width="1.03" height="1.03" fill="#d8e7f5"/>
<rect x="6" y="37" width="1.03" height="1.03" fill="#d7e6f5"/>
<rect x="7" y="37" width="1.03" height="1.03" fill="#d6e6f4"/>
<rect x="8" y="37" width="1.03" height="1.03" fill="#d6e5f4"/>
<rect x="9" y="37" width="1.03" height="1.03" fill="#d5e5f4"/>
<rect x="10" y="37" width="1.03" height="1.03" fill="#d3e4f3"/>
<rect x="11" y="37" width="1.03" height="1.03" fill="#d3e3f3"/>
<rect x="12" y="37" width="1.03" height="1.03" fill="#d2e3f3"/>
<rect x="13" y="37" width="1.03" height="1.03" fill="#d1e2f3"/>
<rect x="14" y="37" width="1.03" height="1.03" fill="#d1e2f3"/>
<rect x="15" y="37" width="1.03" height="1.03" fill="#d0e2f2"/>
<rect x="16" y="37" width="1.03" height="1.03" fill="#d0e1f2"/>
<rect x="17" y="37" width="1.03" height="1.03" fill="#d0e1f2"/>
<rect x="18" y="37" width="1.03" height="1.03" fill="#cfe1f2"/>
<rect x="19" y="37" width="1.03" height="1.03" fill="#cfe1f2"/>
<rect x="20" y="37" width="1.03" height="1.03" fill="#cfe1f2"/>
<rect x="21" y="37" width="1.03" height="1.03" fill="#cfe1f2"/>
<rect x="22" y="37" width="1.03" height="1.03" fill="#d0e1f2"/>
<rect x="23" y="37" width="1.03" height="1.03" fill="#d0e1f2"/>
<rect x="24" y="37" width="1.03" height="1.03" fill="#d0e2f2"/>
<rect x="25" y="37" width="1.03" height="1.03" fill="#d1e2f3"/>
<rect x="26" y="37" width="1.03" height="1.03" fill="#d1e2f3"/>
<rect x="27" y="37" width="1.03" height="1.03" fill="#d2e3f3"/>
<rect x="28" y="37" width="1.03" height="1.03" fill="#d3e3f3"/>
<rect x="29" y="37" width="1.03" height="1.03" fill="#d3e4f3"/>
<rect x="30" y="37" width="1.03" height="1.03" fill="#d5e5f4"/>
<rect x="31" y="37" width="1.03" height="1.03" fill="#d6e5f4"/>
<rect x="32" y="37" width="1.03" height="1.03" fill="#d6e6f4"/>
<rect x="33" y="37" width="1.03" height="1.03" fill="#d7e6f5"/>
<rect x="34" y="37" width="1.03" height="1.03" fill="#d8e7f5"/>
<rect x="35" y="37" width="1.03" height="1.03" fill="#d9e8f5"/>
<rect x="36" y="37" width="1.03" height="1.03" fill="#dae8f6"/>
<rect x="37" y="37" width="1.03" height="1.03" fill="#dbe9f6"/>
<rect x="38" y="37" width="1.03" height="1.03" fill="#dce9f6"/>
<rect x="39" y="37" width="1.03" height="1.03" fill="#dceaf6"/>
<rect x="0" y="38" width="1.03" height="1.03" fill="#ddeaf7"/>
<rect x="1" y="38" width="1.03" height="1.03" fill="#dceaf6"/>
<rect x="2" y="38" width="1.03" height="1.03" fill="#dce9f6"/>
<rect x="3" y="38" width="1.03" height="1.03" fill="#dbe9f6"/>
<rect x="4" y="38" width="1.03" height="1.03" fill="#dae8f6"/>
<rect x="5" y="38" width="1.03" height="1.03" fill="#d9e8f5"/>
<rect x="6" y="38" width="1.03" height="1.03" fill="#d9e7f5"/>
<rect x="7" y="38" width="1.03" height="1.03" fill="#d8e7f5"/>
<rect x="8" y="38" width="1.03" height="1.03" fill="#d7e6f5"/>
<rect x="9" y="38" width="1.03" height="1.03" fill="#d6e5f4"/>
<rect x="10" y="38" width="1.03" height="1.03" fill="#d5e5f4"/>
<rect x="11" y="38" width="1.03" height="1.03" fill="#d5e5f4"/>
<rect x="12" y="38" width="1.03" height="1.03" fill="#d4e4f4"/>
<rect x="13" y="38" width="1.03" height="1.03" fill="#d3e4f3"/>
<rect x="14" y="38" width="1.03" height="1.03" fill="#d3e3f3"/>
<rect x="15" y="38" width="1.03" height="1.03" fill="#d2e3f3"/>
<rect x="16" y="38" width="1.03" height="1.03" fill="#d2e3f3"/>
<rect x="17" y="38" width="1.03" height="1.03" fill="#d1e2f3"/>
<rect x="18" y="38" width="1.03" height="1.03" fill="#d1e2f3"/>
<rect x="19" y="38" width="1.03" height="1.03" fill="#d1e2f3"/>
<rect x="20" y="38" width="1.03" height="1.03" fill="#d1e2f3"/>
<rect x="21" y="38" width="1.03" height="1.03" fill="#d1e2f3"/>
<rect x="22" y="38" width="1.03" height="1.03" fill="#d1e2f3"/>
<rect x="23" y="38" width="1.03" height="1.03" fill="#d2e3f3"/>
<rect x="24" y="38" width="1.03" height="1.03" fill="#d2e3f3"/>
<rect x="25" y="38" width="1.03" height="1.03" fill="#d3e3f3"/>
<rect x="26" y="38" width="1.03" height="1.03" fill="#d3e4f3"/>
<rect x="27" y="38" width="1.03" height="1.03" fill="#d4e4f4"/>
<rect x="28" y="38" width="1.03" height="1.03" fill="#d5e5f4"/>
<rect x="29" y="38" width="1.03" height="1.03" fill="#d5e5f4"/>
<rect x="30" y="38" width="1.03" height="1.03" fill="#d6e5f4"/>
<rect x="31" y="38" width="1.03" height="1.03" fill="#d7e6f5"/>
<rect x="32" y="38" width="1.03" height="1.03" fill="#d8e7f5"/>
<rect x="33" y="38" width="1.03" height="1.03" fill="#d9e7f5"/>
<rect x="34" y="38" width="1.03" height="1.03" fill="#d9e8f5"/>
<rect x="35" y="38" width="1.03" height="1.03" fill="#dae8f6"/>
<rect x="36" y="38" width="1.03" height="1.03" fill="#dbe9f6"/>
<rect x="37" y="38" width="1.03" height="1.03" fill="#dce9f6"/>
<rect x="38" y="38" width="1.03" height="1.03" fill="#dceaf6"/>
<rect x="39" y="38" width="1.03" height="1.03" fill="#ddeaf7"/>
<rect x="0" y="39" width="1.03" height="1.03" fill="#deebf7"/>
<rect x="1" y="39" width="1.03" height="1.03" fill="#ddeaf7"/>
<rect x="2" y="39" width="1.03" height="1.03" fill="#dceaf6"/>
<rect x="3" y="39" width="1.03" height="1.03" fill="#dce9f6"/>
<rect x="4" y="39" width="1.03" height="1.03" fill="#dbe9f6"/>
<rect x="5" y="39" width="1.03" height="1.03" fill="#dae8f6"/>
<rect x="6" y="39" width="1.03" height="1.03" fill="#d9e8f5"/>
<rect x="7" y="39" width="1.03" height="1.03" fill="#d9e7f5"/>
<rect x="8" y="39" width="1.03" height="1.03" fill="#d8e7f5"/>
<rect x="9" y="39" width="1.03" height="1.03" fill="#d7e6f5"/>
<rect x="10" y="39" width="1.03" height="1.03" fill="#d6e6f4"/>
<rect x="11" y="39" width="1.03" height="1.03" fill="#d6e5f4"/>
<rect x="12" y="39" width="1.03" height="1.03" fill="#d6e5f4"/>
<rect x="13" y="39" width="1.03" height="1.03" fill="#d5e5f4"/>
<rect x="14" y="39" width="1.03" height="1.03" fill="#d4e4f4"/>
<rect x="15" y="39" width="1.03" height="1.03" fill="#d4e4f4"/>
<rect x="16" y="39" width="1.03" height="1.03" fill="#d3e4f3"/>
<rect x="17" y="39" width="1.03" height="1.03" fill="#d3e4f3"/>
<rect x="18" y="39" width="1.03" height="1.03" fill="#d3e4f3"/>
<rect x="19" y="39" width="1.03" height="1.03" fill="#d3e4f3"/>
<rect x="20" y="39" width="1.03" height="1.03" fill="#d3e4f3"/>
<rect x="21" y="39" width="1.03" height="1.03" fill="#d3e4f3"/>
<rect x="22" y="39" width="1.03" height="1.03" fill="#d3e4f3"/>
<rect x="23" y="39" width="1.03" height="1.03" fill="#d3e4f3"/>
<rect x="24" y="39" width="1.03" height="1.03" fill="#d4e4f4"/>
<rect x="25" y="39" width="1.03" height="1.03" fill="#d4e4f4"/>
<rect x="26" y="39" width="1.03" height="1.03" fill="#d5e5f4"/>
<rect x="27" y="39" width="1.03" height="1.03" fill="#d6e5f4"/>
<rect x="28" y="39" width="1.03" height="1.03" fill="#d6e5f4"/>
<rect x="29" y="39" width="1.03" height="1.03" fill="#d6e6f4"/>
<rect x="30" y="39" width="1.03" height="1.03" fill="#d7e6f5"/>
<rect x="31" y="39" width="1.03" height="1.03" fill="#d8e7f5"/>
<rect x="32" y="39" width="1.03" height="1.03" fill="#d9e7f5"/>
<rect x="33" y="39" width="1.03" height="1.03" fill="#d9e8f5"/>
<rect x="34" y="39" width="1.03" height="1.03" fill="#dae8f6"/>
<rect x="35" y="39" width="1.03" height="1.03" fill="#dbe9f6"/>
<rect x="36" y="39" width="1.03" height="1.03" fill="#dce9f6"/>
<rect x="37" y="39" width="1.03" height="1.03" fill="#dceaf6"/>
<rect x="38" y="39" width="1.03" height="1.03" fill="#ddeaf7"/>
<rect x="39" y="39" width="1.03" height="1.03" fill="#deebf7"/>
</g></defs>
<rect width="2006" height="1038" fill="#fff"/>
<g>
<path class="tk" d="M141.00 23.20h11.67"/>
<path class="tm" d="M141.00 42.20h6.67"/>
<path class="tm" d="M141.00 61.21h6.67"/>
<path class="tm" d="M141.00 80.22h6.67"/>
<path class="tm" d="M141.00 99.22h6.67"/>
<path class="tk" d="M141.00 118.23h11.67"/>
<path class="tm" d="M141.00 137.23h6.67"/>
<path class="tm" d="M141.00 156.23h6.67"/>
<path class="tm" d="M141.00 175.24h6.67"/>
<path class="tm" d="M141.00 194.25h6.67"/>
<path class="tk" d="M141.00 213.25h11.67"/>
<path class="tk" d="M559.78 213.25v-11.67"/>
<path class="tk" d="M499.95 213.25v-11.67"/>
<path class="tk" d="M440.12 213.25v-11.67"/>
<path class="tk" d="M380.30 213.25v-11.67"/>
<path class="tk" d="M320.48 213.25v-11.67"/>
<path class="tk" d="M260.65 213.25v-11.67"/>
<path class="tk" d="M200.82 213.25v-11.67"/>
<polyline class="ln" points="613.62,23.20 601.65,23.20 589.69,23.20 577.72,23.20 565.76,23.20 553.79,23.20 541.83,23.20 529.86,23.20 517.90,23.20 505.93,23.20 493.97,23.20 482.00,23.20 470.04,23.20 458.07,23.20 446.11,23.20 434.14,103.02 422.18,103.02 410.21,103.02 398.25,103.02 386.28,103.02 374.32,103.02 362.35,103.02 350.39,103.02 338.42,103.02 326.46,103.02 314.49,23.20 302.53,23.20 290.56,23.20 278.60,23.20 266.63,23.20 254.67,23.20 242.70,23.20 230.74,23.20 218.77,23.20 206.81,23.20 194.84,23.20 182.88,23.20 170.91,23.20 158.95,23.20 145.38,23.20"/>
<rect class="sp" x="141.00" y="4.40" width="478.60" height="208.85"/>
<text class="t k" x="130.00" y="35.60" text-anchor="end">0.0</text>
<text class="t k" x="130.00" y="130.62" text-anchor="end">−0.5</text>
<text class="t k" x="130.00" y="225.65" text-anchor="end">−1.0</text>
<text class="t" transform="translate(27.70 109.23) rotate(-90)" text-anchor="middle">Δ°<tspan class="i">C</tspan></text>
</g>
<g>
<rect x="141.00" y="256.45" width="478.60" height="477.95" fill="#f7fbff"/>
<rect x="320.41" y="435.48" width="119.08" height="118.69" fill="#8cc0dd"/>
<path fill="none" stroke="#fff" stroke-opacity="0.85" stroke-width="1.3" d="M142.90 733.07V258.35H618.27"/>
<path fill="none" stroke="#fff" stroke-opacity="0.85" stroke-width="1.0" d="M142.90 732.60H617.80V258.35"/>
<path class="tk" d="M559.78 734.40v-11.67"/>
<path class="tk" d="M141.00 674.66h11.67"/>
<path class="tk" d="M499.95 734.40v-11.67"/>
<path class="tk" d="M141.00 614.91h11.67"/>
<path class="tk" d="M440.12 734.40v-11.67"/>
<path class="tk" d="M141.00 555.17h11.67"/>
<path class="tk" d="M380.30 734.40v-11.67"/>
<path class="tk" d="M141.00 495.42h11.67"/>
<path class="tk" d="M320.48 734.40v-11.67"/>
<path class="tk" d="M141.00 435.68h11.67"/>
<path class="tk" d="M260.65 734.40v-11.67"/>
<path class="tk" d="M141.00 375.94h11.67"/>
<path class="tk" d="M200.82 734.40v-11.67"/>
<path class="tk" d="M141.00 316.19h11.67"/>
<rect class="sp" x="141.00" y="256.45" width="478.60" height="477.95"/>
<text class="t k" x="260.65" y="769.90" text-anchor="middle">100</text>
<text class="t k" x="130.00" y="388.34" text-anchor="end">100</text>
<text class="t k" x="380.30" y="769.90" text-anchor="middle">0</text>
<text class="t k" x="130.00" y="507.82" text-anchor="end">0</text>
<text class="t k" x="499.95" y="769.90" text-anchor="middle">-100</text>
<text class="t k" x="130.00" y="627.31" text-anchor="end">-100</text>
<text class="t l" x="380.30" y="816.4" text-anchor="middle">East distance (m)</text>
<text class="t l" transform="translate(33.40 495.92) rotate(-90)" text-anchor="middle">North distance (m)</text>
</g>
<g>
<rect x="165.20" y="858.00" width="430.20" height="24.60" fill="url(#bl)"/>
<rect fill="none" stroke="url(#wg)" stroke-width="1.0" x="166.90" y="859.70" width="426.80" height="21.20"/>
<path class="tk" d="M165.20 882.60v12.27"/>
<path class="tm" d="M208.22 882.60v6.67"/>
<path class="tm" d="M251.24 882.60v6.67"/>
<path class="tm" d="M294.26 882.60v6.67"/>
<path class="tm" d="M337.28 882.60v6.67"/>
<path class="tk" d="M380.30 882.60v12.27"/>
<path class="tm" d="M423.32 882.60v6.67"/>
<path class="tm" d="M466.34 882.60v6.67"/>
<path class="tm" d="M509.36 882.60v6.67"/>
<path class="tm" d="M552.38 882.60v6.67"/>
<path class="tk" d="M595.40 882.60v12.27"/>
<rect class="sp" x="165.20" y="858.00" width="430.20" height="24.60"/>
<text class="t k" x="165.20" y="930.0" font-size="32.6" text-anchor="middle">−1.0</text>
<text class="t k" x="380.30" y="930.0" font-size="32.6" text-anchor="middle">−0.5</text>
<text class="t k" x="595.40" y="930.0" font-size="32.6" text-anchor="middle">0.0</text>
<text class="t" x="380.30" y="976.8" text-anchor="middle" letter-spacing="-0.25">Δ°<tspan class="i">C</tspan></text>
</g>
<text class="cap cb" x="248.50" y="1027.8">(a)</text>
<text class="cap cs" x="305.30" y="1028.1" letter-spacing="-0.16">Direct Effect</text>
<g>
<path class="tk" d="M832.00 23.20h11.67"/>
<path class="tm" d="M832.00 42.20h6.67"/>
<path class="tm" d="M832.00 61.21h6.67"/>
<path class="tm" d="M832.00 80.22h6.67"/>
<path class="tm" d="M832.00 99.22h6.67"/>
<path class="tk" d="M832.00 118.23h11.67"/>
<path class="tm" d="M832.00 137.23h6.67"/>
<path class="tm" d="M832.00 156.23h6.67"/>
<path class="tm" d="M832.00 175.24h6.67"/>
<path class="tm" d="M832.00 194.25h6.67"/>
<path class="tk" d="M832.00 213.25h11.67"/>
<path class="tk" d="M1250.78 213.25v-11.67"/>
<path class="tk" d="M1190.95 213.25v-11.67"/>
<path class="tk" d="M1131.12 213.25v-11.67"/>
<path class="tk" d="M1071.30 213.25v-11.67"/>
<path class="tk" d="M1011.47 213.25v-11.67"/>
<path class="tk" d="M951.65 213.25v-11.67"/>
<path class="tk" d="M891.82 213.25v-11.67"/>
<polyline class="ln" points="1304.62,58.07 1292.65,59.94 1280.69,61.98 1268.72,64.20 1256.76,66.61 1244.79,69.23 1232.83,72.08 1220.86,75.16 1208.90,78.48 1196.93,82.02 1184.97,85.76 1173.00,89.66 1161.04,93.63 1149.07,97.58 1137.11,101.37 1125.14,104.85 1113.18,107.87 1101.21,110.29 1089.25,111.97 1077.28,112.83 1065.32,112.83 1053.35,111.97 1041.39,110.29 1029.42,107.87 1017.46,104.85 1005.49,101.37 993.53,97.58 981.56,93.63 969.60,89.66 957.63,85.76 945.67,82.02 933.70,78.48 921.74,75.16 909.77,72.08 897.81,69.23 885.84,66.61 873.88,64.20 861.91,61.98 849.95,59.94 836.38,58.07"/>
<rect class="sp" x="832.00" y="4.40" width="478.60" height="208.85"/>
<text class="t k" x="821.00" y="35.60" text-anchor="end">0.0</text>
<text class="t k" x="821.00" y="130.62" text-anchor="end">−0.5</text>
<text class="t k" x="821.00" y="225.65" text-anchor="end">−1.0</text>
<text class="t" transform="translate(718.70 109.23) rotate(-90)" text-anchor="middle">Δ°<tspan class="i">C</tspan></text>
</g>
<g>
<use href="#ind" transform="translate(832.80 257.45) scale(11.90750 11.86875)"/>
<path fill="none" stroke="#fff" stroke-opacity="0.85" stroke-width="1.3" d="M833.90 733.07V258.35H1309.27"/>
<path fill="none" stroke="#fff" stroke-opacity="0.85" stroke-width="1.0" d="M833.90 732.60H1308.80V258.35"/>
<path class="tk" d="M1250.78 734.40v-11.67"/>
<path class="tk" d="M832.00 674.66h11.67"/>
<path class="tk" d="M1190.95 734.40v-11.67"/>
<path class="tk" d="M832.00 614.91h11.67"/>
<path class="tk" d="M1131.12 734.40v-11.67"/>
<path class="tk" d="M832.00 555.17h11.67"/>
<path class="tk" d="M1071.30 734.40v-11.67"/>
<path class="tk" d="M832.00 495.42h11.67"/>
<path class="tk" d="M1011.47 734.40v-11.67"/>
<path class="tk" d="M832.00 435.68h11.67"/>
<path class="tk" d="M951.65 734.40v-11.67"/>
<path class="tk" d="M832.00 375.94h11.67"/>
<path class="tk" d="M891.82 734.40v-11.67"/>
<path class="tk" d="M832.00 316.19h11.67"/>
<rect class="sp" x="832.00" y="256.45" width="478.60" height="477.95"/>
<text class="t k" x="951.65" y="769.90" text-anchor="middle">100</text>
<text class="t k" x="821.00" y="388.34" text-anchor="end">100</text>
<text class="t k" x="1071.30" y="769.90" text-anchor="middle">0</text>
<text class="t k" x="821.00" y="507.82" text-anchor="end">0</text>
<text class="t k" x="1190.95" y="769.90" text-anchor="middle">-100</text>
<text class="t k" x="821.00" y="627.31" text-anchor="end">-100</text>
<text class="t l" x="1071.30" y="816.4" text-anchor="middle">East distance (m)</text>
<text class="t l" transform="translate(724.40 495.92) rotate(-90)" text-anchor="middle">North distance (m)</text>
</g>
<g>
<rect x="856.20" y="858.00" width="430.20" height="24.60" fill="url(#bl)"/>
<rect fill="none" stroke="url(#wg)" stroke-width="1.0" x="857.90" y="859.70" width="426.80" height="21.20"/>
<path class="tk" d="M856.20 882.60v12.27"/>
<path class="tm" d="M899.22 882.60v6.67"/>
<path class="tm" d="M942.24 882.60v6.67"/>
<path class="tm" d="M985.26 882.60v6.67"/>
<path class="tm" d="M1028.28 882.60v6.67"/>
<path class="tk" d="M1071.30 882.60v12.27"/>
<path class="tm" d="M1114.32 882.60v6.67"/>
<path class="tm" d="M1157.34 882.60v6.67"/>
<path class="tm" d="M1200.36 882.60v6.67"/>
<path class="tm" d="M1243.38 882.60v6.67"/>
<path class="tk" d="M1286.40 882.60v12.27"/>
<rect class="sp" x="856.20" y="858.00" width="430.20" height="24.60"/>
<text class="t k" x="856.20" y="930.0" font-size="32.6" text-anchor="middle">−1.0</text>
<text class="t k" x="1071.30" y="930.0" font-size="32.6" text-anchor="middle">−0.5</text>
<text class="t k" x="1286.40" y="930.0" font-size="32.6" text-anchor="middle">0.0</text>
<text class="t" x="1071.30" y="976.8" text-anchor="middle" letter-spacing="-0.25">Δ°<tspan class="i">C</tspan></text>
</g>
<text class="cap cb" x="927.80" y="1027.8">(b)</text>
<text class="cap cs" x="985.60" y="1028.1" letter-spacing="-0.08">Indirect Effect</text>
<g>
<path class="tk" d="M1523.40 23.20h11.67"/>
<path class="tm" d="M1523.40 42.20h6.67"/>
<path class="tm" d="M1523.40 61.21h6.67"/>
<path class="tm" d="M1523.40 80.22h6.67"/>
<path class="tm" d="M1523.40 99.22h6.67"/>
<path class="tk" d="M1523.40 118.23h11.67"/>
<path class="tm" d="M1523.40 137.23h6.67"/>
<path class="tm" d="M1523.40 156.23h6.67"/>
<path class="tm" d="M1523.40 175.24h6.67"/>
<path class="tm" d="M1523.40 194.25h6.67"/>
<path class="tk" d="M1523.40 213.25h11.67"/>
<path class="tk" d="M1942.18 213.25v-11.67"/>
<path class="tk" d="M1882.35 213.25v-11.67"/>
<path class="tk" d="M1822.53 213.25v-11.67"/>
<path class="tk" d="M1762.70 213.25v-11.67"/>
<path class="tk" d="M1702.88 213.25v-11.67"/>
<path class="tk" d="M1643.05 213.25v-11.67"/>
<path class="tk" d="M1583.22 213.25v-11.67"/>
<polyline class="ln" points="1996.02,58.07 1984.05,59.94 1972.09,61.98 1960.12,64.20 1948.16,66.61 1936.19,69.23 1924.23,72.08 1912.26,75.16 1900.30,78.48 1888.33,82.02 1876.37,85.76 1864.40,89.66 1852.44,93.63 1840.47,97.58 1828.51,101.37 1816.54,184.67 1804.58,187.70 1792.61,190.11 1780.65,191.79 1768.68,192.65 1756.72,192.65 1744.75,191.79 1732.79,190.11 1720.82,187.70 1708.86,184.67 1696.89,101.37 1684.93,97.58 1672.96,93.63 1661.00,89.66 1649.03,85.76 1637.07,82.02 1625.10,78.48 1613.14,75.16 1601.17,72.08 1589.21,69.23 1577.24,66.61 1565.28,64.20 1553.31,61.98 1541.35,59.94 1527.78,58.07"/>
<rect class="sp" x="1523.40" y="4.40" width="478.60" height="208.85"/>
<text class="t k" x="1512.40" y="35.60" text-anchor="end">0.0</text>
<text class="t k" x="1512.40" y="130.62" text-anchor="end">−0.5</text>
<text class="t k" x="1512.40" y="225.65" text-anchor="end">−1.0</text>
<text class="t" transform="translate(1410.10 109.23) rotate(-90)" text-anchor="middle">Δ°<tspan class="i">C</tspan></text>
</g>
<g>
<use href="#ind" transform="translate(1524.20 257.45) scale(11.90750 11.86875)"/>
<g shape-rendering="crispEdges" transform="translate(1524.20 257.45) scale(11.90750 11.86875)">
<rect x="15" y="15" width="1.03" height="1.03" fill="#1460a8"/>
<rect x="16" y="15" width="1.03" height="1.03" fill="#125da6"/>
<rect x="17" y="15" width="1.03" height="1.03" fill="#0f5aa3"/>
<rect x="18" y="15" width="1.03" height="1.03" fill="#0e58a2"/>
<rect x="19" y="15" width="1.03" height="1.03" fill="#0d57a1"/>
<rect x="20" y="15" width="1.03" height="1.03" fill="#0d57a1"/>
<rect x="21" y="15" width="1.03" height="1.03" fill="#0e58a2"/>
<rect x="22" y="15" width="1.03" height="1.03" fill="#0f5aa3"/>
<rect x="23" y="15" width="1.03" height="1.03" fill="#125da6"/>
<rect x="24" y="15" width="1.03" height="1.03" fill="#1460a8"/>
<rect x="15" y="16" width="1.03" height="1.03" fill="#125da6"/>
<rect x="16" y="16" width="1.03" height="1.03" fill="#0e59a2"/>
<rect x="17" y="16" width="1.03" height="1.03" fill="#0c56a0"/>
<rect x="18" y="16" width="1.03" height="1.03" fill="#0a549e"/>
<rect x="19" y="16" width="1.03" height="1.03" fill="#0a539e"/>
<rect x="20" y="16" width="1.03" height="1.03" fill="#0a539e"/>
<rect x="21" y="16" width="1.03" height="1.03" fill="#0a549e"/>
<rect x="22" y="16" width="1.03" height="1.03" fill="#0c56a0"/>
<rect x="23" y="16" width="1.03" height="1.03" fill="#0e59a2"/>
<rect x="24" y="16" width="1.03" height="1.03" fill="#125da6"/>
<rect x="15" y="17" width="1.03" height="1.03" fill="#0f5aa3"/>
<rect x="16" y="17" width="1.03" height="1.03" fill="#0c56a0"/>
<rect x="17" y="17" width="1.03" height="1.03" fill="#0a539e"/>
<rect x="18" y="17" width="1.03" height="1.03" fill="#08519c"/>
<rect x="19" y="17" width="1.03" height="1.03" fill="#08509b"/>
<rect x="20" y="17" width="1.03" height="1.03" fill="#08509b"/>
<rect x="21" y="17" width="1.03" height="1.03" fill="#08519c"/>
<rect x="22" y="17" width="1.03" height="1.03" fill="#0a539e"/>
<rect x="23" y="17" width="1.03" height="1.03" fill="#0c56a0"/>
<rect x="24" y="17" width="1.03" height="1.03" fill="#0f5aa3"/>
<rect x="15" y="18" width="1.03" height="1.03" fill="#0e58a2"/>
<rect x="16" y="18" width="1.03" height="1.03" fill="#0a549e"/>
<rect x="17" y="18" width="1.03" height="1.03" fill="#08519c"/>
<rect x="18" y="18" width="1.03" height="1.03" fill="#084f99"/>
<rect x="19" y="18" width="1.03" height="1.03" fill="#084d96"/>
<rect x="20" y="18" width="1.03" height="1.03" fill="#084d96"/>
<rect x="21" y="18" width="1.03" height="1.03" fill="#084f99"/>
<rect x="22" y="18" width="1.03" height="1.03" fill="#08519c"/>
<rect x="23" y="18" width="1.03" height="1.03" fill="#0a549e"/>
<rect x="24" y="18" width="1.03" height="1.03" fill="#0e58a2"/>
<rect x="15" y="19" width="1.03" height="1.03" fill="#0d57a1"/>
<rect x="16" y="19" width="1.03" height="1.03" fill="#0a539e"/>
<rect x="17" y="19" width="1.03" height="1.03" fill="#08509b"/>
<rect x="18" y="19" width="1.03" height="1.03" fill="#084d96"/>
<rect x="19" y="19" width="1.03" height="1.03" fill="#084c95"/>
<rect x="20" y="19" width="1.03" height="1.03" fill="#084c95"/>
<rect x="21" y="19" width="1.03" height="1.03" fill="#084d96"/>
<rect x="22" y="19" width="1.03" height="1.03" fill="#08509b"/>
<rect x="23" y="19" width="1.03" height="1.03" fill="#0a539e"/>
<rect x="24" y="19" width="1.03" height="1.03" fill="#0d57a1"/>
<rect x="15" y="20" width="1.03" height="1.03" fill="#0d57a1"/>
<rect x="16" y="20" width="1.03" height="1.03" fill="#0a539e"/>
<rect x="17" y="20" width="1.03" height="1.03" fill="#08509b"/>
<rect x="18" y="20" width="1.03" height="1.03" fill="#084d96"/>
<rect x="19" y="20" width="1.03" height="1.03" fill="#084c95"/>
<rect x="20" y="20" width="1.03" height="1.03" fill="#084c95"/>
<rect x="21" y="20" width="1.03" height="1.03" fill="#084d96"/>
<rect x="22" y="20" width="1.03" height="1.03" fill="#08509b"/>
<rect x="23" y="20" width="1.03" height="1.03" fill="#0a539e"/>
<rect x="24" y="20" width="1.03" height="1.03" fill="#0d57a1"/>
<rect x="15" y="21" width="1.03" height="1.03" fill="#0e58a2"/>
<rect x="16" y="21" width="1.03" height="1.03" fill="#0a549e"/>
<rect x="17" y="21" width="1.03" height="1.03" fill="#08519c"/>
<rect x="18" y="21" width="1.03" height="1.03" fill="#084f99"/>
<rect x="19" y="21" width="1.03" height="1.03" fill="#084d96"/>
<rect x="20" y="21" width="1.03" height="1.03" fill="#084d96"/>
<rect x="21" y="21" width="1.03" height="1.03" fill="#084f99"/>
<rect x="22" y="21" width="1.03" height="1.03" fill="#08519c"/>
<rect x="23" y="21" width="1.03" height="1.03" fill="#0a549e"/>
<rect x="24" y="21" width="1.03" height="1.03" fill="#0e58a2"/>
<rect x="15" y="22" width="1.03" height="1.03" fill="#0f5aa3"/>
<rect x="16" y="22" width="1.03" height="1.03" fill="#0c56a0"/>
<rect x="17" y="22" width="1.03" height="1.03" fill="#0a539e"/>
<rect x="18" y="22" width="1.03" height="1.03" fill="#08519c"/>
<rect x="19" y="22" width="1.03" height="1.03" fill="#08509b"/>
<rect x="20" y="22" width="1.03" height="1.03" fill="#08509b"/>
<rect x="21" y="22" width="1.03" height="1.03" fill="#08519c"/>
<rect x="22" y="22" width="1.03" height="1.03" fill="#0a539e"/>
<rect x="23" y="22" width="1.03" height="1.03" fill="#0c56a0"/>
<rect x="24" y="22" width="1.03" height="1.03" fill="#0f5aa3"/>
<rect x="15" y="23" width="1.03" height="1.03" fill="#125da6"/>
<rect x="16" y="23" width="1.03" height="1.03" fill="#0e59a2"/>
<rect x="17" y="23" width="1.03" height="1.03" fill="#0c56a0"/>
<rect x="18" y="23" width="1.03" height="1.03" fill="#0a549e"/>
<rect x="19" y="23" width="1.03" height="1.03" fill="#0a539e"/>
<rect x="20" y="23" width="1.03" height="1.03" fill="#0a539e"/>
<rect x="21" y="23" width="1.03" height="1.03" fill="#0a549e"/>
<rect x="22" y="23" width="1.03" height="1.03" fill="#0c56a0"/>
<rect x="23" y="23" width="1.03" height="1.03" fill="#0e59a2"/>
<rect x="24" y="23" width="1.03" height="1.03" fill="#125da6"/>
<rect x="15" y="24" width="1.03" height="1.03" fill="#1460a8"/>
<rect x="16" y="24" width="1.03" height="1.03" fill="#125da6"/>
<rect x="17" y="24" width="1.03" height="1.03" fill="#0f5aa3"/>
<rect x="18" y="24" width="1.03" height="1.03" fill="#0e58a2"/>
<rect x="19" y="24" width="1.03" height="1.03" fill="#0d57a1"/>
<rect x="20" y="24" width="1.03" height="1.03" fill="#0d57a1"/>
<rect x="21" y="24" width="1.03" height="1.03" fill="#0e58a2"/>
<rect x="22" y="24" width="1.03" height="1.03" fill="#0f5aa3"/>
<rect x="23" y="24" width="1.03" height="1.03" fill="#125da6"/>
<rect x="24" y="24" width="1.03" height="1.03" fill="#1460a8"/>
</g>
<path fill="none" stroke="#fff" stroke-opacity="0.85" stroke-width="1.3" d="M1525.30 733.07V258.35H2000.67"/>
<path fill="none" stroke="#fff" stroke-opacity="0.85" stroke-width="1.0" d="M1525.30 732.60H2000.20V258.35"/>
<path class="tk" d="M1942.18 734.40v-11.67"/>
<path class="tk" d="M1523.40 674.66h11.67"/>
<path class="tk" d="M1882.35 734.40v-11.67"/>
<path class="tk" d="M1523.40 614.91h11.67"/>
<path class="tk" d="M1822.53 734.40v-11.67"/>
<path class="tk" d="M1523.40 555.17h11.67"/>
<path class="tk" d="M1762.70 734.40v-11.67"/>
<path class="tk" d="M1523.40 495.42h11.67"/>
<path class="tk" d="M1702.88 734.40v-11.67"/>
<path class="tk" d="M1523.40 435.68h11.67"/>
<path class="tk" d="M1643.05 734.40v-11.67"/>
<path class="tk" d="M1523.40 375.94h11.67"/>
<path class="tk" d="M1583.22 734.40v-11.67"/>
<path class="tk" d="M1523.40 316.19h11.67"/>
<rect class="sp" x="1523.40" y="256.45" width="478.60" height="477.95"/>
<text class="t k" x="1643.05" y="769.90" text-anchor="middle">100</text>
<text class="t k" x="1512.40" y="388.34" text-anchor="end">100</text>
<text class="t k" x="1762.70" y="769.90" text-anchor="middle">0</text>
<text class="t k" x="1512.40" y="507.82" text-anchor="end">0</text>
<text class="t k" x="1882.35" y="769.90" text-anchor="middle">-100</text>
<text class="t k" x="1512.40" y="627.31" text-anchor="end">-100</text>
<text class="t l" x="1762.70" y="816.4" text-anchor="middle">East distance (m)</text>
<text class="t l" transform="translate(1415.80 495.92) rotate(-90)" text-anchor="middle">North distance (m)</text>
</g>
<g>
<rect x="1547.60" y="858.00" width="430.20" height="24.60" fill="url(#bl)"/>
<rect fill="none" stroke="url(#wg)" stroke-width="1.0" x="1549.30" y="859.70" width="426.80" height="21.20"/>
<path class="tk" d="M1547.60 882.60v12.27"/>
<path class="tm" d="M1590.62 882.60v6.67"/>
<path class="tm" d="M1633.64 882.60v6.67"/>
<path class="tm" d="M1676.66 882.60v6.67"/>
<path class="tm" d="M1719.68 882.60v6.67"/>
<path class="tk" d="M1762.70 882.60v12.27"/>
<path class="tm" d="M1805.72 882.60v6.67"/>
<path class="tm" d="M1848.74 882.60v6.67"/>
<path class="tm" d="M1891.76 882.60v6.67"/>
<path class="tm" d="M1934.78 882.60v6.67"/>
<path class="tk" d="M1977.80 882.60v12.27"/>
<rect class="sp" x="1547.60" y="858.00" width="430.20" height="24.60"/>
<text class="t k" x="1547.60" y="930.0" font-size="32.6" text-anchor="middle">−1.0</text>
<text class="t k" x="1762.70" y="930.0" font-size="32.6" text-anchor="middle">−0.5</text>
<text class="t k" x="1977.80" y="930.0" font-size="32.6" text-anchor="middle">0.0</text>
<text class="t" x="1762.70" y="976.8" text-anchor="middle" letter-spacing="-0.25">Δ°<tspan class="i">C</tspan></text>
</g>
<text class="cap cb" x="1622.00" y="1027.8">(c)</text>
<text class="cap cs" x="1677.50" y="1028.1" letter-spacing="-0.03">Overall Effect</text>
</svg></body></html>
